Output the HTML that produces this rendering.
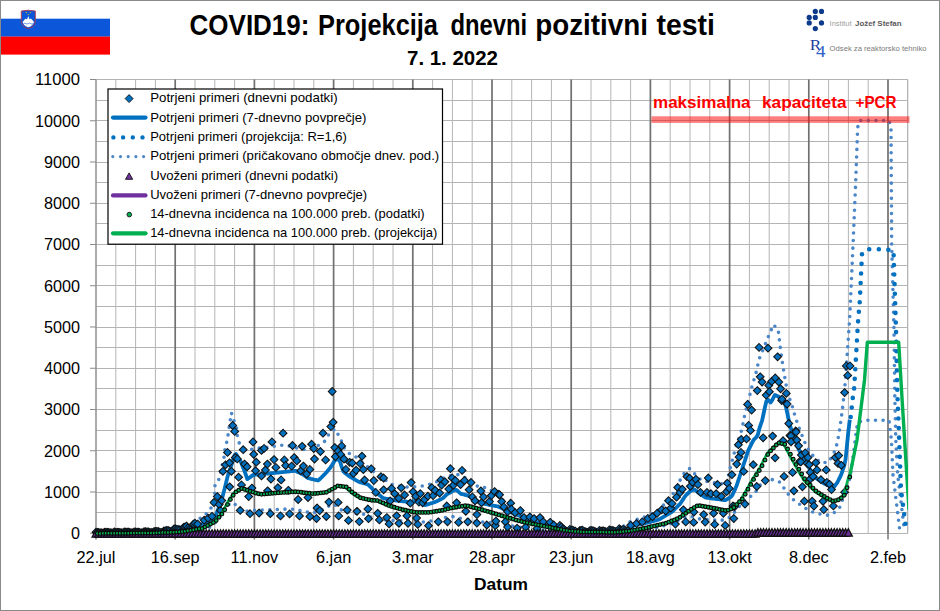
<!DOCTYPE html><html><head><meta charset="utf-8"><style>html,body{margin:0;padding:0;background:#fff}svg{display:block}</style></head><body>
<svg width="940" height="611" viewBox="0 0 940 611" font-family="Liberation Sans, sans-serif">
<rect x="0" y="0" width="940" height="611" fill="#fff"/>
<rect x="0.5" y="0.5" width="939" height="610" fill="none" stroke="#8a8a8a" stroke-width="1"/>
<rect x="1" y="18.7" width="109" height="18" fill="#0b56d9"/><rect x="1" y="36.6" width="109" height="18" fill="#ff0000"/>
<path d="M21.3 11 Q28.3 9.5 35.3 11 L35.3 21 Q35 27 28.3 28.6 Q21.6 27 21.3 21 Z" fill="#0b56d9" stroke="#b3374a" stroke-width="0.9"/>
<path d="M22.6 22 L25.6 18.5 L27 19.5 L28.3 16 L29.6 19.5 L31 18.5 L34 22 Q33 26 28.3 27.3 Q23.6 26 22.6 22 Z" fill="#fff"/>
<path d="M23.5 23.6 q1.2 -0.8 2.4 0 t2.4 0 t2.4 0 t2.4 0" stroke="#0b56d9" stroke-width="0.6" fill="none"/>
<circle cx="26.3" cy="12.6" r="0.6" fill="#e8d000"/><circle cx="30.3" cy="12.6" r="0.6" fill="#e8d000"/><circle cx="28.3" cy="14.6" r="0.6" fill="#e8d000"/>
<text x="189.6" y="34.5" font-size="29" font-weight="bold" textLength="119.8" lengthAdjust="spacingAndGlyphs" fill="#000">COVID19:</text>
<text x="318" y="34.5" font-size="29" font-weight="bold" textLength="120" lengthAdjust="spacingAndGlyphs" fill="#000">Projekcija</text>
<text x="450.4" y="34.5" font-size="29" font-weight="bold" textLength="76.8" lengthAdjust="spacingAndGlyphs" fill="#000">dnevni</text>
<text x="535.3" y="34.5" font-size="29" font-weight="bold" textLength="112.6" lengthAdjust="spacingAndGlyphs" fill="#000">pozitivni</text>
<text x="656.5" y="34.5" font-size="29" font-weight="bold" textLength="58.4" lengthAdjust="spacingAndGlyphs" fill="#000">testi</text>
<text x="407" y="64.9" font-size="20" font-weight="bold" textLength="91" lengthAdjust="spacingAndGlyphs" fill="#000">7. 1. 2022</text>
<circle cx="815.3" cy="11.4" r="2.6" fill="#0d3b8c"/>
<circle cx="821.5" cy="11.4" r="2.6" fill="#0d3b8c"/>
<circle cx="809.2" cy="17.4" r="2.6" fill="#0d3b8c"/>
<circle cx="815.3" cy="17.4" r="2.6" fill="#0d3b8c"/>
<circle cx="809.2" cy="22.9" r="2.6" fill="#0d3b8c"/>
<circle cx="821.5" cy="22.9" r="2.6" fill="#0d3b8c"/>
<circle cx="815.3" cy="28.6" r="2.6" fill="#0d3b8c"/>
<text x="829.6" y="26" font-size="7.4" fill="#a0a0a0" textLength="22" lengthAdjust="spacingAndGlyphs">Institut</text>
<text x="855" y="26" font-size="7.4" font-weight="bold" fill="#5a5a5a" textLength="46.5" lengthAdjust="spacingAndGlyphs">Jožef Stefan</text>
<text x="809.8" y="50.3" font-size="15" font-family="Liberation Serif, serif" fill="#1c3f9e" textLength="11.5" lengthAdjust="spacingAndGlyphs">R</text>
<text x="816" y="56.6" font-size="16.5" font-family="Liberation Serif, serif" fill="#2d62c8" textLength="9.5" lengthAdjust="spacingAndGlyphs">4</text>
<text x="829.6" y="51" font-size="7.6" fill="#7a7a7a" textLength="97" lengthAdjust="spacingAndGlyphs">Odsek za reaktorsko tehniko</text>
<path d="M96 533.5 H908 M96 512.5 H908 M96 492.5 H908 M96 471.5 H908 M96 450.5 H908 M96 430.5 H908 M96 409.5 H908 M96 388.5 H908 M96 368.5 H908 M96 347.5 H908 M96 327.5 H908 M96 306.5 H908 M96 285.5 H908 M96 265.5 H908 M96 244.5 H908 M96 223.5 H908 M96 203.5 H908 M96 182.5 H908 M96 162.5 H908 M96 141.5 H908 M96 120.5 H908 M96 100.5 H908 M96 79.5 H908" stroke="#b4b4b4" stroke-width="1" fill="none"/>
<path d="M115.8 79.5 V533 M135.6 79.5 V533 M155.4 79.5 V533 M195 79.5 V533 M214.8 79.5 V533 M234.6 79.5 V533 M274.2 79.5 V533 M294 79.5 V533 M313.8 79.5 V533 M353.4 79.5 V533 M373.2 79.5 V533 M393 79.5 V533 M432.6 79.5 V533 M452.4 79.5 V533 M472.2 79.5 V533 M511.8 79.5 V533 M531.6 79.5 V533 M551.4 79.5 V533 M591 79.5 V533 M610.8 79.5 V533 M630.6 79.5 V533 M670.2 79.5 V533 M690 79.5 V533 M709.8 79.5 V533 M749.4 79.5 V533 M769.2 79.5 V533 M789 79.5 V533 M828.6 79.5 V533 M848.4 79.5 V533 M868.2 79.5 V533 M907.8 79.5 V533 M907.5 79.5 V533" stroke="#b4b4b4" stroke-width="1" fill="none"/>
<path d="M175.2 79.5 V533 M254.4 79.5 V533 M333.6 79.5 V533 M412.8 79.5 V533 M492 79.5 V533 M571.2 79.5 V533 M650.4 79.5 V533 M729.6 79.5 V533 M808.8 79.5 V533 M888 79.5 V533" stroke="#707070" stroke-width="1.7" fill="none"/>
<path d="M96 79.5 V533" stroke="#969696" stroke-width="1.6" fill="none"/>
<path d="M90 533.3 H96 M90 492 H96 M90 450.8 H96 M90 409.5 H96 M90 368.3 H96 M90 327 H96 M90 285.8 H96 M90 244.5 H96 M90 203.3 H96 M90 162 H96 M90 120.8 H96 M90 79.5 H96" stroke="#8a8a8a" stroke-width="1.1"/>
<path d="M96 533 V539.5 M175.2 533 V539.5 M254.4 533 V539.5 M333.6 533 V539.5 M412.8 533 V539.5 M492 533 V539.5 M571.2 533 V539.5 M650.4 533 V539.5 M729.6 533 V539.5 M808.8 533 V539.5 M888 533 V539.5" stroke="#7a7a7a" stroke-width="1.5"/>
<text x="80" y="539.2" font-size="17" text-anchor="end" fill="#000" textLength="9" lengthAdjust="spacingAndGlyphs">0</text>
<text x="80" y="497.9" font-size="17" text-anchor="end" fill="#000" textLength="36" lengthAdjust="spacingAndGlyphs">1000</text>
<text x="80" y="456.7" font-size="17" text-anchor="end" fill="#000" textLength="36" lengthAdjust="spacingAndGlyphs">2000</text>
<text x="80" y="415.4" font-size="17" text-anchor="end" fill="#000" textLength="36" lengthAdjust="spacingAndGlyphs">3000</text>
<text x="80" y="374.2" font-size="17" text-anchor="end" fill="#000" textLength="36" lengthAdjust="spacingAndGlyphs">4000</text>
<text x="80" y="332.9" font-size="17" text-anchor="end" fill="#000" textLength="36" lengthAdjust="spacingAndGlyphs">5000</text>
<text x="80" y="291.7" font-size="17" text-anchor="end" fill="#000" textLength="36" lengthAdjust="spacingAndGlyphs">6000</text>
<text x="80" y="250.4" font-size="17" text-anchor="end" fill="#000" textLength="36" lengthAdjust="spacingAndGlyphs">7000</text>
<text x="80" y="209.2" font-size="17" text-anchor="end" fill="#000" textLength="36" lengthAdjust="spacingAndGlyphs">8000</text>
<text x="80" y="167.9" font-size="17" text-anchor="end" fill="#000" textLength="36" lengthAdjust="spacingAndGlyphs">9000</text>
<text x="80" y="126.7" font-size="17" text-anchor="end" fill="#000" textLength="45" lengthAdjust="spacingAndGlyphs">10000</text>
<text x="80" y="85.4" font-size="17" text-anchor="end" fill="#000" textLength="45" lengthAdjust="spacingAndGlyphs">11000</text>
<text x="96" y="562.9" font-size="16.3" text-anchor="middle" fill="#000">22.jul</text>
<text x="175.2" y="562.9" font-size="16.3" text-anchor="middle" fill="#000">16.sep</text>
<text x="254.4" y="562.9" font-size="16.3" text-anchor="middle" fill="#000">11.nov</text>
<text x="333.6" y="562.9" font-size="16.3" text-anchor="middle" fill="#000">6.jan</text>
<text x="412.8" y="562.9" font-size="16.3" text-anchor="middle" fill="#000">3.mar</text>
<text x="492" y="562.9" font-size="16.3" text-anchor="middle" fill="#000">28.apr</text>
<text x="571.2" y="562.9" font-size="16.3" text-anchor="middle" fill="#000">23.jun</text>
<text x="650.4" y="562.9" font-size="16.3" text-anchor="middle" fill="#000">18.avg</text>
<text x="729.6" y="562.9" font-size="16.3" text-anchor="middle" fill="#000">13.okt</text>
<text x="808.8" y="562.9" font-size="16.3" text-anchor="middle" fill="#000">8.dec</text>
<text x="888" y="562.9" font-size="16.3" text-anchor="middle" fill="#000">2.feb</text>
<text x="501" y="589.5" font-size="17" font-weight="bold" text-anchor="middle" fill="#000" textLength="54" lengthAdjust="spacingAndGlyphs">Datum</text>
<defs><clipPath id="pc"><rect x="90" y="79.5" width="818" height="462"/></clipPath></defs>
<g clip-path="url(#pc)">
<path d="M96 532.6 L97.4 532.6 L98.8 532.6 L100.2 532.6 L101.7 532.6 L103.1 532.6 L104.5 532.5 L105.9 532.5 L107.3 532.5 L108.7 532.5 L110.1 532.5 L111.6 532.5 L113 532.5 L114.4 532.5 L115.8 532.5 L117.2 532.5 L118.6 532.4 L120 532.4 L121.5 532.4 L122.9 532.4 L124.3 532.4 L125.7 532.4 L127.1 532.4 L128.5 532.4 L129.9 532.4 L131.4 532.4 L132.8 532.3 L134.2 532.3 L135.6 532.3 L137 532.3 L138.4 532.3 L139.8 532.3 L141.3 532.3 L142.7 532.2 L144.1 532.2 L145.5 532.2 L146.9 532.1 L148.3 532.1 L149.7 532.1 L151.2 532 L152.6 532 L154 532 L155.4 531.9 L156.8 531.9 L158.2 531.8 L159.6 531.8 L161.1 531.7 L162.5 531.6 L163.9 531.4 L165.3 531.3 L166.7 531.1 L168.1 531 L169.5 530.8 L171 530.7 L172.4 530.6 L173.8 530.4 L175.2 530.3 L176.6 530 L178 529.8 L179.4 529.6 L180.9 529.3 L182.3 529.1 L183.7 528.9 L185.1 528.6 L186.5 528.4 L187.9 528.1 L189.3 527.9 L190.8 527.6 L192.2 527.2 L193.6 526.7 L195 526.3 L196.4 525.9 L197.8 525.5 L199.2 525 L200.7 524.6 L202.1 524.2 L203.5 523.6 L204.9 522.9 L206.3 522.1 L207.7 521.4 L209.1 520.7 L210.6 520 L212 519.3 L213.4 518.3 L214.8 516.9 L216.2 514.3 L217.6 510.8 L219 507.3 L220.5 503.8 L221.9 498.9 L223.3 493.7 L224.7 488.4 L226.1 482.7 L227.5 476.9 L228.9 471.8 L230.4 468.2 L231.8 464 L233.2 459.5 L234.6 455 L236 453.9 L237.4 456.2 L238.8 458.4 L240.3 460.6 L241.7 463.9 L243.1 467.5 L244.5 471 L245.9 474.9 L247.3 479.1 L248.7 478.1 L250.2 477.1 L251.6 476.1 L253 475.1 L254.4 474.6 L255.8 474.5 L257.2 474.4 L258.6 474.3 L260.1 474.2 L261.5 474 L262.9 473.9 L264.3 473.8 L265.7 473.7 L267.1 473.6 L268.5 473.5 L270 473.3 L271.4 473.2 L272.8 473.1 L274.2 472.9 L275.6 472.8 L277 472.6 L278.4 472.5 L279.9 472.3 L281.3 472.2 L282.7 472.1 L284.1 471.9 L285.5 471.8 L286.9 471.6 L288.3 471.5 L289.8 471.4 L291.2 471.2 L292.6 471.1 L294 470.9 L295.4 470.8 L296.8 471.5 L298.2 472.2 L299.7 472.9 L301.1 473.6 L302.5 474.3 L303.9 475.1 L305.3 476.1 L306.7 477.2 L308.1 478.1 L309.6 478.4 L311 478.8 L312.4 479.1 L313.8 479.5 L315.2 479.8 L316.6 480.2 L318 480.5 L319.5 479.4 L320.9 478 L322.3 476.6 L323.7 475.2 L325.1 473.8 L326.5 472.3 L327.9 470.5 L329.4 468.8 L330.8 467 L332.2 464.9 L333.6 462.5 L335 460.1 L336.4 459.6 L337.8 459.6 L339.3 459.6 L340.7 463.7 L342.1 468 L343.5 471.6 L344.9 472.8 L346.3 473.9 L347.7 475 L349.2 476.2 L350.6 477.1 L352 477.9 L353.4 478.7 L354.8 479.5 L356.2 480.4 L357.6 481.2 L359.1 481.9 L360.5 482.3 L361.9 482.7 L363.3 483.1 L364.7 483.5 L366.1 483.9 L367.5 484.3 L369 485.4 L370.4 486.8 L371.8 488.2 L373.2 489.7 L374.6 491.1 L376 492.5 L377.4 493.6 L378.9 494.7 L380.3 495.8 L381.7 496.9 L383.1 498 L384.5 498.3 L385.9 498.6 L387.3 498.8 L388.8 499.1 L390.2 499.4 L391.6 499.7 L393 500 L394.4 500.2 L395.8 500.5 L397.2 500.7 L398.7 500.8 L400.1 501 L401.5 501.1 L402.9 501.3 L404.3 501.4 L405.7 501.5 L407.1 501.7 L408.6 501.8 L410 501.8 L411.4 501.7 L412.8 501.5 L414.2 501.4 L415.6 501.2 L417 501.7 L418.5 502.4 L419.9 503 L421.3 503.6 L422.7 504.2 L424.1 504.8 L425.5 505 L426.9 504.6 L428.4 504.1 L429.8 503.7 L431.2 503.2 L432.6 502.8 L434 502.3 L435.4 501.9 L436.8 501.2 L438.3 500.5 L439.7 499.8 L441.1 499.1 L442.5 498.4 L443.9 497.3 L445.3 495.8 L446.7 494.4 L448.2 493.6 L449.6 492.8 L451 492 L452.4 491.2 L453.8 490.4 L455.2 489.6 L456.6 490.1 L458.1 491.3 L459.5 492.6 L460.9 493.8 L462.3 494.2 L463.7 494.5 L465.1 494.9 L466.5 495.2 L468 495.6 L469.4 496.2 L470.8 497 L472.2 497.9 L473.6 498.8 L475 499.7 L476.4 500.6 L477.9 501.5 L479.3 502.4 L480.7 502.7 L482.1 503.1 L483.5 503.5 L484.9 503.8 L486.3 504.2 L487.8 504.5 L489.2 504.9 L490.6 505.1 L492 505.4 L493.4 505.6 L494.8 505.8 L496.2 506.1 L497.7 506.3 L499.1 507 L500.5 507.6 L501.9 508.3 L503.3 508.9 L504.7 509.6 L506.1 510.2 L507.6 510.9 L509 511.5 L510.4 512.2 L511.8 512.7 L513.2 513.3 L514.6 513.9 L516 514.4 L517.5 515 L518.9 515.5 L520.3 516.1 L521.7 516.7 L523.1 517.2 L524.5 517.8 L525.9 518.4 L527.4 518.9 L528.8 519.5 L530.2 520.1 L531.6 520.4 L533 520.8 L534.4 521.2 L535.8 521.6 L537.3 522 L538.7 522.4 L540.1 522.8 L541.5 523.2 L542.9 523.6 L544.3 523.9 L545.7 524.3 L547.2 524.7 L548.6 525.1 L550 525.5 L551.4 525.9 L552.8 526.3 L554.2 526.7 L555.6 527.1 L557.1 527.4 L558.5 527.8 L559.9 528.2 L561.3 528.6 L562.7 529 L564.1 529.4 L565.5 529.8 L567 530.2 L568.4 530.6 L569.8 530.9 L571.2 531 L572.6 531 L574 531.1 L575.4 531.1 L576.9 531.1 L578.3 531.1 L579.7 531.2 L581.1 531.2 L582.5 531.2 L583.9 531.2 L585.3 531.3 L586.8 531.3 L588.2 531.3 L589.6 531.3 L591 531.4 L592.4 531.4 L593.8 531.4 L595.2 531.4 L596.7 531.4 L598.1 531.5 L599.5 531.5 L600.9 531.5 L602.3 531.4 L603.7 531.4 L605.1 531.3 L606.6 531.3 L608 531.2 L609.4 531.2 L610.8 531.1 L612.2 531.1 L613.6 531 L615 531 L616.5 530.8 L617.9 530.7 L619.3 530.5 L620.7 530.3 L622.1 530.1 L623.5 530 L624.9 529.8 L626.4 529.2 L627.8 528.5 L629.2 527.8 L630.6 527.2 L632 526.5 L633.4 525.9 L634.8 525.2 L636.3 524.8 L637.7 524.6 L639.1 524.3 L640.5 524 L641.9 523.8 L643.3 523.5 L644.7 523.3 L646.2 523 L647.6 522.6 L649 522.2 L650.4 521.8 L651.8 521.5 L653.2 521.1 L654.6 520.7 L656.1 520.3 L657.5 519.9 L658.9 519.5 L660.3 518.8 L661.7 517.9 L663.1 517.1 L664.5 516.2 L666 515.4 L667.4 514.5 L668.8 513.7 L670.2 512.8 L671.6 512 L673 510.9 L674.4 509.5 L675.9 508 L677.3 506.6 L678.7 505.2 L680.1 503.8 L681.5 501.7 L682.9 499.6 L684.3 497.4 L685.8 495.4 L687.2 494.1 L688.6 492.7 L690 491.3 L691.4 490.4 L692.8 489.9 L694.2 489.4 L695.7 490.3 L697.1 491.6 L698.5 492.8 L699.9 493.7 L701.3 494.7 L702.7 495.6 L704.1 496.6 L705.6 497.5 L707 497.8 L708.4 497.9 L709.8 498.1 L711.2 498.3 L712.6 498.5 L714 498.6 L715.5 498.8 L716.9 499 L718.3 499.2 L719.7 499.4 L721.1 499.6 L722.5 499.8 L723.9 500 L725.4 500.2 L726.8 499.3 L728.2 498.5 L729.6 497.7 L731 496.8 L732.4 495.1 L733.8 491.9 L735.3 488.8 L736.7 485.5 L738.1 481.2 L739.5 477 L740.9 472.8 L742.3 468.5 L743.7 464.2 L745.2 459.8 L746.6 455.4 L748 451 L749.4 448.2 L750.8 445.4 L752.2 442.5 L753.6 439.9 L755.1 438.4 L756.5 437 L757.9 434.5 L759.3 428.8 L760.7 424.6 L762.1 420.7 L763.5 414 L765 407 L766.4 401.3 L767.8 399.6 L769.2 401 L770.6 402.4 L772 400.5 L773.4 397.7 L774.9 395 L776.3 395.6 L777.7 396.3 L779.1 397 L780.5 398 L781.9 399.8 L783.3 401.6 L784.8 403.3 L786.2 408 L787.6 414.6 L789 421.3 L790.4 426.9 L791.8 430.9 L793.2 434.7 L794.7 438.5 L796.1 442.6 L797.5 446.6 L798.9 449.8 L800.3 452.3 L801.7 454.9 L803.1 457.5 L804.6 460 L806 462.5 L807.4 464.9 L808.8 467.4 L810.2 469.7 L811.6 471.7 L813 473.7 L814.5 475.7 L815.9 477.7 L817.3 479 L818.7 479.9 L820.1 480.9 L821.5 481.8 L822.9 482.8 L824.4 483.7 L825.8 484.3 L827.2 484.9 L828.6 485.5 L830 486.1 L831.4 486.8 L832.8 487.4 L834.3 486.5 L835.7 484.6 L837.1 482.8 L838.5 480.2 L839.9 477.3 L841.3 474.4 L842.7 470.1 L844.2 465.9 L845.6 459.1 L847 445.2 L848.4 431 L849.8 419.7" fill="none" stroke="#0070c0" stroke-width="3.8" stroke-linejoin="round"/>
<path d="M96 532.2 L97.4 532.2 L98.8 532.2 L100.2 532.2 L101.7 532.2 L103.1 532.1 L104.5 532.1 L105.9 532.1 L107.3 532.1 L108.7 532.1 L110.1 532.1 L111.6 532.1 L113 532 L114.4 532 L115.8 532 L117.2 532 L118.6 532 L120 532 L121.5 532 L122.9 532 L124.3 531.9 L125.7 531.9 L127.1 531.9 L128.5 531.9 L129.9 531.9 L131.4 531.9 L132.8 531.9 L134.2 531.8 L135.6 531.8 L137 531.8 L138.4 531.7 L139.8 531.7 L141.3 531.6 L142.7 531.6 L144.1 531.5 L145.5 531.5 L146.9 531.4 L148.3 531.4 L149.7 531.3 L151.2 531.3 L152.6 531.2 L154 531.1 L155.4 531.1 L156.8 530.9 L158.2 530.7 L159.6 530.5 L161.1 530.3 L162.5 530.1 L163.9 529.9 L165.3 529.7 L166.7 529.5 L168.1 529.2 L169.5 529 L171 528.8 L172.4 528.5 L173.8 528.1 L175.2 527.8 L176.6 527.4 L178 527.1 L179.4 526.7 L180.9 526.4 L182.3 526 L183.7 525.7 L185.1 525.3 L186.5 524.8 L187.9 524.2 L189.3 523.6 L190.8 523 L192.2 522.3 L193.6 521.7 L195 521.1 L196.4 520.5 L197.8 519.8 L199.2 518.9 L200.7 517.8 L202.1 516.8 L203.5 515.7 L204.9 514.7 L206.3 513.6 L207.7 512.6 L209.1 511.1 L210.6 509 L212 505.2 L213.4 500 L214.8 494.8 L215 484 L219 479.2 L224 457.2 L224.9 449.7 L226.8 441.9 L228.1 434.7 L230.4 419.4 L231.4 413 L233.8 420.3 L236.6 428.1 L237.3 435.3 L239.3 443.2 L244 448.5 L250.4 449.5 L256.9 448.4 L271.3 446.9 L278.5 445.2 L286.4 445.2 L300.8 449.1 L308 450 L320.4 444.6 L325.6 440.6 L328.9 434.1 L334.8 428.8 L338.7 435.4 L341.9 442 L344.6 449.1 L348.5 452.4 L350.2 454.5 L356.1 457.1 L366.8 466.2 L378.5 475 L391 484.2 L405 487 L419.1 486.8 L426.3 484.9 L433.5 483.6 L446 476.5 L457.3 474.4 L466 478 L474.3 484.8 L480.6 487.6 L487.2 487.6 L495 493 L505 502 L515 510 L530 518 L545 524 L560 528 L561.3 528.1 L562.7 528.7 L564.1 529.2 L565.5 529.8 L567 529.9 L568.4 530 L569.8 530 L571.2 530 L572.6 530.1 L574 530.1 L575.4 530.1 L576.9 530.2 L578.3 530.2 L579.7 530.2 L581.1 530.3 L582.5 530.3 L583.9 530.3 L585.3 530.4 L586.8 530.4 L588.2 530.4 L589.6 530.5 L591 530.5 L592.4 530.6 L593.8 530.6 L595.2 530.6 L596.7 530.6 L598.1 530.5 L599.5 530.5 L600.9 530.4 L602.3 530.3 L603.7 530.2 L605.1 530.2 L606.6 530.1 L608 530 L609.4 530 L610.8 529.9 L612.2 529.6 L613.6 529.4 L615 529.1 L616.5 528.9 L617.9 528.6 L619.3 528.4 L620.7 528.1 L622.1 527.2 L623.5 526.2 L624.9 525.2 L626.4 524.3 L627.8 523.3 L629.2 522.3 L630.6 521.3 L632 520.8 L633.4 520.4 L634.8 520 L636.3 519.6 L637.7 519.2 L639.1 518.8 L640.5 518.5 L641.9 518.1 L643.3 517.5 L644.7 516.9 L646.2 516.3 L647.6 515.8 L649 515.2 L650.4 514.6 L651.8 514 L653.2 513.5 L654.6 512.9 L656.1 511.8 L657.5 510.6 L658.9 509.3 L660.3 508 L661.7 506.8 L663.1 505.5 L664.5 504.3 L666 503 L667.4 501.7 L668.8 500.1 L670.2 498 L671.6 495.9 L673 493.8 L674.4 491.7 L675.9 489.6 L677.3 486.5 L678.7 483.4 L680.1 480.2 L681.5 477.3 L682.9 475.2 L684.3 473.2 L685.8 471.1 L687.2 469.8 L688.6 469.1 L690 468.4 L691.4 469.6 L692.8 471.6 L694.2 473.3 L695.7 474.7 L697.1 476.1 L698.5 477.5 L699.9 478.9 L701.3 480.3 L702.7 480.7 L704.1 481 L705.6 481.2 L707 481.5 L708.4 481.7 L709.8 482 L711.2 482.3 L712.6 482.5 L714 482.8 L715.5 483.1 L716.9 483.4 L718.3 483.7 L719.7 484 L721.1 484.3 L722.5 483 L723.9 481.8 L725 484 L728 478.6 L729.3 471.4 L731.2 464.2 L733.2 457 L735.2 449.2 L740.2 434.9 L742.4 427.5 L743.6 420 L745.3 412.6 L749.3 397.4 L751 390 L753.1 382.5 L755.4 375.1 L757.3 368.2 L758.5 360.4 L761.6 353.3 L764.6 345.9 L767.1 339.4 L770.7 331.6 L773 324.7 L777.9 328.7 L779.1 336.1 L779.7 343.6 L780.8 351 L782 359.1 L782.9 366.5 L784.3 374 L785.4 381.4 L788.6 397 L791.6 403 L793.4 410.9 L795.7 417.8 L798 425.2 L800.9 432.6 L803.7 439.5 L806.5 446.8 L815 458.5 L821.9 463 L828.8 462 L835.7 449.3 L838.7 435.6 L841 420 L843 404.6 L845.3 381.7 L849.6 320 L853.1 243.5 L855.7 181.6 L857.7 127.4 L859.5 120.5 L889 120.5 L891 127 L891.7 245 L894 330 L894.8 395 L895.8 440 L897.7 475 L904.4 530" fill="none" stroke="#4a86c8" stroke-width="3.6" stroke-linecap="round" stroke-dasharray="0 7.6"/>
<path d="M96 533 L97.4 533 L98.8 533 L100.2 533 L101.7 533 L103.1 533 L104.5 533 L105.9 533 L107.3 533 L108.7 533 L110.1 533 L111.6 533 L113 533 L114.4 533 L115.8 533 L117.2 533 L118.6 533 L120 533 L121.5 532.9 L122.9 532.9 L124.3 532.9 L125.7 532.9 L127.1 532.9 L128.5 532.9 L129.9 532.9 L131.4 532.9 L132.8 532.9 L134.2 532.9 L135.6 532.9 L137 532.9 L138.4 532.9 L139.8 532.9 L141.3 532.9 L142.7 532.8 L144.1 532.8 L145.5 532.8 L146.9 532.8 L148.3 532.8 L149.7 532.8 L151.2 532.8 L152.6 532.7 L154 532.7 L155.4 532.7 L156.8 532.7 L158.2 532.6 L159.6 532.6 L161.1 532.5 L162.5 532.5 L163.9 532.4 L165.3 532.3 L166.7 532.3 L168.1 532.2 L169.5 532.2 L171 532.1 L172.4 532 L173.8 531.9 L175.2 531.8 L176.6 531.7 L178 531.7 L179.4 531.6 L180.9 531.5 L182.3 531.4 L183.7 531.3 L185.1 531.2 L186.5 531.1 L187.9 530.9 L189.3 530.7 L190.8 530.6 L192.2 530.4 L193.6 530.2 L195 530.1 L196.4 529.9 L197.8 529.8 L199.2 529.5 L200.7 529.2 L202.1 528.9 L203.5 528.7 L204.9 528.4 L206.3 528.1 L207.7 527.8 L209.1 527.5 L210.6 526.9 L212 525.9 L213.4 524.5 L214.8 523.2 L216.2 521.8 L217.6 519.9 L219 517.8 L220.5 515.8 L221.9 513.6 L223.3 511.3 L224.7 509.3 L226.1 507.9 L227.5 506.3 L228.9 504.5 L230.4 502.8 L231.8 502.3 L233.2 503.2 L234.6 504.1 L236 505 L237.4 506.2 L238.8 507.6 L240.3 509 L241.7 510.5 L243.1 512.2 L244.5 511.8 L245.9 511.4 L247.3 511 L248.7 510.6 L250.2 510.4 L251.6 510.4 L253 510.3 L254.4 510.3 L255.8 510.2 L257.2 510.2 L258.6 510.1 L260.1 510.1 L261.5 510.1 L262.9 510 L264.3 510 L265.7 509.9 L267.1 509.9 L268.5 509.8 L270 509.7 L271.4 509.7 L272.8 509.6 L274.2 509.6 L275.6 509.5 L277 509.5 L278.4 509.4 L279.9 509.4 L281.3 509.3 L282.7 509.3 L284.1 509.2 L285.5 509.1 L286.9 509.1 L288.3 509 L289.8 509 L291.2 508.9 L292.6 509.2 L294 509.5 L295.4 509.7 L296.8 510 L298.2 510.3 L299.7 510.6 L301.1 511 L302.5 511.4 L303.9 511.8 L305.3 511.9 L306.7 512 L308.1 512.2 L309.6 512.3 L311 512.4 L312.4 512.6 L313.8 512.7 L315.2 512.3 L316.6 511.7 L318 511.2 L319.5 510.6 L320.9 510.1 L322.3 509.5 L323.7 508.8 L325.1 508.1 L326.5 507.4 L327.9 506.6 L329.4 505.7 L330.8 504.7 L332.2 504.6 L333.6 504.6 L335 504.6 L336.4 506.2 L337.8 507.8 L339.3 509.3 L340.7 509.7 L342.1 510.1 L343.5 510.6 L344.9 511 L346.3 511.4 L347.7 511.7 L349.2 512 L350.6 512.3 L352 512.7 L353.4 513 L354.8 513.3 L356.2 513.4 L357.6 513.6 L359.1 513.7 L360.5 513.9 L361.9 514.1 L363.3 514.2 L364.7 514.6 L366.1 515.2 L367.5 515.7 L369 516.3 L370.4 516.8 L371.8 517.4 L373.2 517.8 L374.6 518.2 L376 518.7 L377.4 519.1 L378.9 519.5 L380.3 519.6 L381.7 519.8 L383.1 519.9 L384.5 520 L385.9 520.1 L387.3 520.2 L388.8 520.3 L390.2 520.4 L391.6 520.5 L393 520.6 L394.4 520.6 L395.8 520.7 L397.2 520.8 L398.7 520.8 L400.1 520.9 L401.5 520.9 L402.9 521 L404.3 521 L405.7 521 L407.1 521 L408.6 520.9 L410 520.8 L411.4 520.8 L412.8 521 L414.2 521.2 L415.6 521.5 L417 521.7 L418.5 522 L419.9 522.2 L421.3 522.3 L422.7 522.1 L424.1 521.9 L425.5 521.8 L426.9 521.6 L428.4 521.4 L429.8 521.2 L431.2 521 L432.6 520.8 L434 520.5 L435.4 520.2 L436.8 520 L438.3 519.7 L439.7 519.3 L441.1 518.7 L442.5 518.1 L443.9 517.8 L445.3 517.5 L446.7 517.2 L448.2 516.9 L449.6 516.6 L451 516.2 L452.4 516.5 L453.8 516.9 L455.2 517.4 L456.6 517.9 L458.1 518 L459.5 518.2 L460.9 518.3 L462.3 518.5 L463.7 518.6 L465.1 518.8 L466.5 519.2 L468 519.5 L469.4 519.9 L470.8 520.2 L472.2 520.5 L473.6 520.9 L475 521.2 L476.4 521.4 L477.9 521.5 L479.3 521.7 L480.7 521.8 L482.1 521.9 L483.5 522.1 L484.9 522.2 L486.3 522.3 L487.8 522.4 L489.2 522.5 L490.6 522.6 L492 522.7 L493.4 522.8 L494.8 523 L496.2 523.3 L497.7 523.5 L499.1 523.8 L500.5 524 L501.9 524.3 L503.3 524.6 L504.7 524.8 L506.1 525.1 L507.6 525.3 L509 525.5 L510.4 525.7 L511.8 525.9 L513.2 526.2 L514.6 526.4 L516 526.6 L517.5 526.8 L518.9 527 L520.3 527.3 L521.7 527.5 L523.1 527.7 L524.5 527.9 L525.9 528.1 L527.4 528.3 L528.8 528.4 L530.2 528.6 L531.6 528.7 L533 528.9 L534.4 529 L535.8 529.2 L537.3 529.3 L538.7 529.5 L540.1 529.6 L541.5 529.8 L542.9 530 L544.3 530.1 L545.7 530.3 L547.2 530.4 L548.6 530.6 L550 530.7 L551.4 530.9 L552.8 531 L554.2 531.2 L555.6 531.3 L557.1 531.5 L558.5 531.6 L559.9 531.8 L561.3 531.9 L562.7 532.1 L564.1 532.2 L565.5 532.4 L567 532.4 L568.4 532.4 L569.8 532.4 L571.2 532.4 L572.6 532.4 L574 532.5 L575.4 532.5 L576.9 532.5 L578.3 532.5 L579.7 532.5 L581.1 532.5 L582.5 532.5 L583.9 532.5 L585.3 532.5 L586.8 532.5 L588.2 532.5 L589.6 532.6 L591 532.6 L592.4 532.6 L593.8 532.6 L595.2 532.6 L596.7 532.6 L598.1 532.6 L599.5 532.5 L600.9 532.5 L602.3 532.5 L603.7 532.5 L605.1 532.5 L606.6 532.5 L608 532.4 L609.4 532.4 L610.8 532.4 L612.2 532.3 L613.6 532.3 L615 532.2 L616.5 532.1 L617.9 532.1 L619.3 532 L620.7 531.9 L622.1 531.7 L623.5 531.4 L624.9 531.2 L626.4 530.9 L627.8 530.7 L629.2 530.4 L630.6 530.1 L632 530 L633.4 529.9 L634.8 529.8 L636.3 529.7 L637.7 529.6 L639.1 529.5 L640.5 529.4 L641.9 529.3 L643.3 529.1 L644.7 529 L646.2 528.8 L647.6 528.7 L649 528.5 L650.4 528.4 L651.8 528.2 L653.2 528.1 L654.6 527.9 L656.1 527.6 L657.5 527.3 L658.9 527 L660.3 526.6 L661.7 526.3 L663.1 526 L664.5 525.6 L666 525.3 L667.4 525 L668.8 524.6 L670.2 524 L671.6 523.4 L673 522.9 L674.4 522.3 L675.9 521.8 L677.3 521 L678.7 520.1 L680.1 519.3 L681.5 518.5 L682.9 518 L684.3 517.5 L685.8 516.9 L687.2 516.6 L688.6 516.4 L690 516.2 L691.4 516.5 L692.8 517 L694.2 517.5 L695.7 517.9 L697.1 518.2 L698.5 518.6 L699.9 519 L701.3 519.3 L702.7 519.4 L704.1 519.5 L705.6 519.6 L707 519.6 L708.4 519.7 L709.8 519.8 L711.2 519.8 L712.6 519.9 L714 520 L715.5 520.1 L716.9 520.2 L718.3 520.2 L719.7 520.3 L721.1 520.4 L722.5 520.1 L723.9 519.7 L725.4 519.4 L726.8 519.1 L728.2 518.4 L729.6 517.2 L731 515.9 L732.4 514.7 L733.8 513 L735.3 511.3 L736.7 509.7 L738.1 508 L739.5 506.3 L740.9 504.6 L742.3 502.9 L743.7 501.2 L745.2 500.1 L746.6 499 L748 497.9 L749.4 496.9 L750.8 496.3 L752.2 495.8 L753.6 494.8 L755.1 492.5 L756.5 490.9 L757.9 489.4 L759.3 486.8 L760.7 484.1 L762.1 481.8 L763.5 481.2 L765 481.7 L766.4 482.3 L767.8 481.5 L769.2 480.4 L770.6 479.4 L772 479.6 L773.4 479.9 L774.9 480.1 L776.3 480.5 L777.7 481.2 L779.1 481.9 L780.5 482.6 L781.9 484.4 L783.3 487 L784.8 489.6 L786.2 491.8 L787.6 493.4 L789 494.9 L790.4 496.3 L791.8 497.9 L793.2 499.5 L794.7 500.7 L796.1 501.7 L797.5 502.7 L798.9 503.7 L800.3 504.7 L801.7 505.7 L803.1 506.6 L804.6 507.6 L806 508.5 L807.4 509.3 L808.8 510.1 L810.2 510.8 L811.6 511.6 L813 512.1 L814.5 512.5 L815.9 512.9 L817.3 513.2 L818.7 513.6 L820.1 514 L821.5 514.2 L822.9 514.4 L824.4 514.7 L825.8 514.9 L827.2 515.1 L828.6 515.4 L830 515 L831.4 514.3 L832.8 513.6 L834.3 512.6 L835.7 511.5 L837.1 510.3 L838.5 508.7 L839.9 507 L841.3 504.3 L842.7 498.9 L844.2 493.4 L845.6 489 L847 489 L849 482 L851.7 467.7 L855.5 437.5 L857.6 422.4 L864.5 420.2 L889 420.2 L891.4 440 L893 475 L899.5 528" fill="none" stroke="#4a86c8" stroke-width="3.6" stroke-linecap="round" stroke-dasharray="0 7.6"/>
<path d="M850.7 417 L852.8 397.7 L854.2 387.9 L858 322 L859.8 301 L862 254 L866.4 249.2 L885.6 249.2 L893.5 251 L896 330 L897.4 395 L898.8 430 L901 490 L906.3 530" fill="none" stroke="#0070c0" stroke-width="4.6" stroke-linecap="round" stroke-dasharray="0 9.6"/>
<g fill="#0070c0" stroke="#111" stroke-width="1.05"><path d="M96 528.3l3.9 3.9l-3.9 3.9l-3.9 -3.9z"/><path d="M97.4 528.5l3.9 3.9l-3.9 3.9l-3.9 -3.9z"/><path d="M98.8 528.6l3.9 3.9l-3.9 3.9l-3.9 -3.9z"/><path d="M100.2 528.9l3.9 3.9l-3.9 3.9l-3.9 -3.9z"/><path d="M101.7 529l3.9 3.9l-3.9 3.9l-3.9 -3.9z"/><path d="M103.1 529.1l3.9 3.9l-3.9 3.9l-3.9 -3.9z"/><path d="M104.5 528.4l3.9 3.9l-3.9 3.9l-3.9 -3.9z"/><path d="M105.9 528.3l3.9 3.9l-3.9 3.9l-3.9 -3.9z"/><path d="M107.3 528.4l3.9 3.9l-3.9 3.9l-3.9 -3.9z"/><path d="M108.7 528.6l3.9 3.9l-3.9 3.9l-3.9 -3.9z"/><path d="M110.1 528.8l3.9 3.9l-3.9 3.9l-3.9 -3.9z"/><path d="M111.6 529l3.9 3.9l-3.9 3.9l-3.9 -3.9z"/><path d="M113 529l3.9 3.9l-3.9 3.9l-3.9 -3.9z"/><path d="M114.4 528.1l3.9 3.9l-3.9 3.9l-3.9 -3.9z"/><path d="M115.8 528.4l3.9 3.9l-3.9 3.9l-3.9 -3.9z"/><path d="M117.2 528.4l3.9 3.9l-3.9 3.9l-3.9 -3.9z"/><path d="M118.6 528.4l3.9 3.9l-3.9 3.9l-3.9 -3.9z"/><path d="M120 528.6l3.9 3.9l-3.9 3.9l-3.9 -3.9z"/><path d="M121.5 528.9l3.9 3.9l-3.9 3.9l-3.9 -3.9z"/><path d="M122.9 529.1l3.9 3.9l-3.9 3.9l-3.9 -3.9z"/><path d="M124.3 528l3.9 3.9l-3.9 3.9l-3.9 -3.9z"/><path d="M125.7 528.2l3.9 3.9l-3.9 3.9l-3.9 -3.9z"/><path d="M127.1 528.2l3.9 3.9l-3.9 3.9l-3.9 -3.9z"/><path d="M128.5 528.2l3.9 3.9l-3.9 3.9l-3.9 -3.9z"/><path d="M129.9 528.6l3.9 3.9l-3.9 3.9l-3.9 -3.9z"/><path d="M131.4 528.9l3.9 3.9l-3.9 3.9l-3.9 -3.9z"/><path d="M132.8 529l3.9 3.9l-3.9 3.9l-3.9 -3.9z"/><path d="M134.2 528.1l3.9 3.9l-3.9 3.9l-3.9 -3.9z"/><path d="M135.6 528.1l3.9 3.9l-3.9 3.9l-3.9 -3.9z"/><path d="M137 528.2l3.9 3.9l-3.9 3.9l-3.9 -3.9z"/><path d="M138.4 528.3l3.9 3.9l-3.9 3.9l-3.9 -3.9z"/><path d="M139.8 528.6l3.9 3.9l-3.9 3.9l-3.9 -3.9z"/><path d="M141.3 528.9l3.9 3.9l-3.9 3.9l-3.9 -3.9z"/><path d="M142.7 529l3.9 3.9l-3.9 3.9l-3.9 -3.9z"/><path d="M144.1 527.8l3.9 3.9l-3.9 3.9l-3.9 -3.9z"/><path d="M145.5 527.8l3.9 3.9l-3.9 3.9l-3.9 -3.9z"/><path d="M146.9 527.9l3.9 3.9l-3.9 3.9l-3.9 -3.9z"/><path d="M148.3 527.9l3.9 3.9l-3.9 3.9l-3.9 -3.9z"/><path d="M149.7 528.5l3.9 3.9l-3.9 3.9l-3.9 -3.9z"/><path d="M151.2 528.6l3.9 3.9l-3.9 3.9l-3.9 -3.9z"/><path d="M152.6 528.9l3.9 3.9l-3.9 3.9l-3.9 -3.9z"/><path d="M154 527.7l3.9 3.9l-3.9 3.9l-3.9 -3.9z"/><path d="M155.4 527.5l3.9 3.9l-3.9 3.9l-3.9 -3.9z"/><path d="M156.8 527.6l3.9 3.9l-3.9 3.9l-3.9 -3.9z"/><path d="M158.2 527.6l3.9 3.9l-3.9 3.9l-3.9 -3.9z"/><path d="M159.6 528.3l3.9 3.9l-3.9 3.9l-3.9 -3.9z"/><path d="M161.1 528.5l3.9 3.9l-3.9 3.9l-3.9 -3.9z"/><path d="M162.5 528.7l3.9 3.9l-3.9 3.9l-3.9 -3.9z"/><path d="M163.9 527.1l3.9 3.9l-3.9 3.9l-3.9 -3.9z"/><path d="M165.3 526.9l3.9 3.9l-3.9 3.9l-3.9 -3.9z"/><path d="M166.7 526.5l3.9 3.9l-3.9 3.9l-3.9 -3.9z"/><path d="M168.1 526.6l3.9 3.9l-3.9 3.9l-3.9 -3.9z"/><path d="M169.5 527.2l3.9 3.9l-3.9 3.9l-3.9 -3.9z"/><path d="M171 528l3.9 3.9l-3.9 3.9l-3.9 -3.9z"/><path d="M172.4 528.2l3.9 3.9l-3.9 3.9l-3.9 -3.9z"/><path d="M173.8 525.2l3.9 3.9l-3.9 3.9l-3.9 -3.9z"/><path d="M175.2 524.8l3.9 3.9l-3.9 3.9l-3.9 -3.9z"/><path d="M176.6 525.5l3.9 3.9l-3.9 3.9l-3.9 -3.9z"/><path d="M178 525.5l3.9 3.9l-3.9 3.9l-3.9 -3.9z"/><path d="M179.4 526.2l3.9 3.9l-3.9 3.9l-3.9 -3.9z"/><path d="M180.9 527.6l3.9 3.9l-3.9 3.9l-3.9 -3.9z"/><path d="M182.3 527.4l3.9 3.9l-3.9 3.9l-3.9 -3.9z"/><path d="M183.7 523.4l3.9 3.9l-3.9 3.9l-3.9 -3.9z"/><path d="M185.1 523l3.9 3.9l-3.9 3.9l-3.9 -3.9z"/><path d="M186.5 522.2l3.9 3.9l-3.9 3.9l-3.9 -3.9z"/><path d="M187.9 524.1l3.9 3.9l-3.9 3.9l-3.9 -3.9z"/><path d="M189.3 525.2l3.9 3.9l-3.9 3.9l-3.9 -3.9z"/><path d="M190.8 525.9l3.9 3.9l-3.9 3.9l-3.9 -3.9z"/><path d="M192.2 527.1l3.9 3.9l-3.9 3.9l-3.9 -3.9z"/><path d="M193.6 520.2l3.9 3.9l-3.9 3.9l-3.9 -3.9z"/><path d="M195 519.3l3.9 3.9l-3.9 3.9l-3.9 -3.9z"/><path d="M197.6 520.2l3.9 3.9l-3.9 3.9l-3.9 -3.9z"/><path d="M204.2 516.3l3.9 3.9l-3.9 3.9l-3.9 -3.9z"/><path d="M208.1 514.3l3.9 3.9l-3.9 3.9l-3.9 -3.9z"/><path d="M212 512.4l3.9 3.9l-3.9 3.9l-3.9 -3.9z"/><path d="M214 498.6l3.9 3.9l-3.9 3.9l-3.9 -3.9z"/><path d="M217.3 492.7l3.9 3.9l-3.9 3.9l-3.9 -3.9z"/><path d="M219.2 500.6l3.9 3.9l-3.9 3.9l-3.9 -3.9z"/><path d="M220.5 506.5l3.9 3.9l-3.9 3.9l-3.9 -3.9z"/><path d="M221.8 496.7l3.9 3.9l-3.9 3.9l-3.9 -3.9z"/><path d="M222.9 467.4l3.9 3.9l-3.9 3.9l-3.9 -3.9z"/><path d="M225.5 460.9l3.9 3.9l-3.9 3.9l-3.9 -3.9z"/><path d="M227.5 448.5l3.9 3.9l-3.9 3.9l-3.9 -3.9z"/><path d="M229.5 458.9l3.9 3.9l-3.9 3.9l-3.9 -3.9z"/><path d="M229.7 482.9l3.9 3.9l-3.9 3.9l-3.9 -3.9z"/><path d="M231.4 467.4l3.9 3.9l-3.9 3.9l-3.9 -3.9z"/><path d="M232.7 421.6l3.9 3.9l-3.9 3.9l-3.9 -3.9z"/><path d="M234.7 427.5l3.9 3.9l-3.9 3.9l-3.9 -3.9z"/><path d="M235.3 453.7l3.9 3.9l-3.9 3.9l-3.9 -3.9z"/><path d="M237.3 455l3.9 3.9l-3.9 3.9l-3.9 -3.9z"/><path d="M238.6 473.3l3.9 3.9l-3.9 3.9l-3.9 -3.9z"/><path d="M240.2 506.5l3.9 3.9l-3.9 3.9l-3.9 -3.9z"/><path d="M241.5 481l3.9 3.9l-3.9 3.9l-3.9 -3.9z"/><path d="M243.2 445.8l3.9 3.9l-3.9 3.9l-3.9 -3.9z"/><path d="M244.5 460.2l3.9 3.9l-3.9 3.9l-3.9 -3.9z"/><path d="M247.1 462.9l3.9 3.9l-3.9 3.9l-3.9 -3.9z"/><path d="M248.7 492.7l3.9 3.9l-3.9 3.9l-3.9 -3.9z"/><path d="M250 509.8l3.9 3.9l-3.9 3.9l-3.9 -3.9z"/><path d="M251.9 484.2l3.9 3.9l-3.9 3.9l-3.9 -3.9z"/><path d="M253 438l3.9 3.9l-3.9 3.9l-3.9 -3.9z"/><path d="M253.7 450.4l3.9 3.9l-3.9 3.9l-3.9 -3.9z"/><path d="M255.6 466.8l3.9 3.9l-3.9 3.9l-3.9 -3.9z"/><path d="M256.3 458.3l3.9 3.9l-3.9 3.9l-3.9 -3.9z"/><path d="M259.1 509.1l3.9 3.9l-3.9 3.9l-3.9 -3.9z"/><path d="M261.5 446.5l3.9 3.9l-3.9 3.9l-3.9 -3.9z"/><path d="M261.5 472l3.9 3.9l-3.9 3.9l-3.9 -3.9z"/><path d="M264.1 444.5l3.9 3.9l-3.9 3.9l-3.9 -3.9z"/><path d="M265.4 466.1l3.9 3.9l-3.9 3.9l-3.9 -3.9z"/><path d="M267.4 460.2l3.9 3.9l-3.9 3.9l-3.9 -3.9z"/><path d="M267.6 486.9l3.9 3.9l-3.9 3.9l-3.9 -3.9z"/><path d="M270.3 509.8l3.9 3.9l-3.9 3.9l-3.9 -3.9z"/><path d="M270.9 475.1l3.9 3.9l-3.9 3.9l-3.9 -3.9z"/><path d="M272 438l3.9 3.9l-3.9 3.9l-3.9 -3.9z"/><path d="M274 455.7l3.9 3.9l-3.9 3.9l-3.9 -3.9z"/><path d="M275.9 463.5l3.9 3.9l-3.9 3.9l-3.9 -3.9z"/><path d="M277.9 483.8l3.9 3.9l-3.9 3.9l-3.9 -3.9z"/><path d="M280.5 512l3.9 3.9l-3.9 3.9l-3.9 -3.9z"/><path d="M281.1 476l3.9 3.9l-3.9 3.9l-3.9 -3.9z"/><path d="M283.1 429.3l3.9 3.9l-3.9 3.9l-3.9 -3.9z"/><path d="M284.4 456l3.9 3.9l-3.9 3.9l-3.9 -3.9z"/><path d="M285.7 461.6l3.9 3.9l-3.9 3.9l-3.9 -3.9z"/><path d="M288.3 486.4l3.9 3.9l-3.9 3.9l-3.9 -3.9z"/><path d="M289.6 510l3.9 3.9l-3.9 3.9l-3.9 -3.9z"/><path d="M291.6 462.2l3.9 3.9l-3.9 3.9l-3.9 -3.9z"/><path d="M292.5 441.6l3.9 3.9l-3.9 3.9l-3.9 -3.9z"/><path d="M294.2 453.7l3.9 3.9l-3.9 3.9l-3.9 -3.9z"/><path d="M296.8 457l3.9 3.9l-3.9 3.9l-3.9 -3.9z"/><path d="M298.1 495.6l3.9 3.9l-3.9 3.9l-3.9 -3.9z"/><path d="M299.5 512l3.9 3.9l-3.9 3.9l-3.9 -3.9z"/><path d="M300.8 466.8l3.9 3.9l-3.9 3.9l-3.9 -3.9z"/><path d="M302.1 442.4l3.9 3.9l-3.9 3.9l-3.9 -3.9z"/><path d="M303.4 462.2l3.9 3.9l-3.9 3.9l-3.9 -3.9z"/><path d="M306.6 470.1l3.9 3.9l-3.9 3.9l-3.9 -3.9z"/><path d="M308 493.6l3.9 3.9l-3.9 3.9l-3.9 -3.9z"/><path d="M309.9 465.5l3.9 3.9l-3.9 3.9l-3.9 -3.9z"/><path d="M309.9 512.6l3.9 3.9l-3.9 3.9l-3.9 -3.9z"/><path d="M311.6 440.3l3.9 3.9l-3.9 3.9l-3.9 -3.9z"/><path d="M313.8 444.6l3.9 3.9l-3.9 3.9l-3.9 -3.9z"/><path d="M314.5 455.1l3.9 3.9l-3.9 3.9l-3.9 -3.9z"/><path d="M316.5 514.6l3.9 3.9l-3.9 3.9l-3.9 -3.9z"/><path d="M317.1 504.1l3.9 3.9l-3.9 3.9l-3.9 -3.9z"/><path d="M319.7 506.7l3.9 3.9l-3.9 3.9l-3.9 -3.9z"/><path d="M320.4 447.6l3.9 3.9l-3.9 3.9l-3.9 -3.9z"/><path d="M323 429.3l3.9 3.9l-3.9 3.9l-3.9 -3.9z"/><path d="M325.6 456l3.9 3.9l-3.9 3.9l-3.9 -3.9z"/><path d="M326.3 512.6l3.9 3.9l-3.9 3.9l-3.9 -3.9z"/><path d="M328.9 498.2l3.9 3.9l-3.9 3.9l-3.9 -3.9z"/><path d="M330.9 422.7l3.9 3.9l-3.9 3.9l-3.9 -3.9z"/><path d="M332.2 387.6l3.9 3.9l-3.9 3.9l-3.9 -3.9z"/><path d="M333.1 418.4l3.9 3.9l-3.9 3.9l-3.9 -3.9z"/><path d="M334.8 443.7l3.9 3.9l-3.9 3.9l-3.9 -3.9z"/><path d="M335.4 452.8l3.9 3.9l-3.9 3.9l-3.9 -3.9z"/><path d="M338.1 447.2l3.9 3.9l-3.9 3.9l-3.9 -3.9z"/><path d="M338.1 498.5l3.9 3.9l-3.9 3.9l-3.9 -3.9z"/><path d="M338.7 512l3.9 3.9l-3.9 3.9l-3.9 -3.9z"/><path d="M340.7 450.5l3.9 3.9l-3.9 3.9l-3.9 -3.9z"/><path d="M341.7 442l3.9 3.9l-3.9 3.9l-3.9 -3.9z"/><path d="M344 455.1l3.9 3.9l-3.9 3.9l-3.9 -3.9z"/><path d="M345.9 465.5l3.9 3.9l-3.9 3.9l-3.9 -3.9z"/><path d="M347.2 506.1l3.9 3.9l-3.9 3.9l-3.9 -3.9z"/><path d="M348.5 516.5l3.9 3.9l-3.9 3.9l-3.9 -3.9z"/><path d="M349.6 458.4l3.9 3.9l-3.9 3.9l-3.9 -3.9z"/><path d="M352.2 459.1l3.9 3.9l-3.9 3.9l-3.9 -3.9z"/><path d="M353.5 469.5l3.9 3.9l-3.9 3.9l-3.9 -3.9z"/><path d="M356.1 466.3l3.9 3.9l-3.9 3.9l-3.9 -3.9z"/><path d="M357 507.4l3.9 3.9l-3.9 3.9l-3.9 -3.9z"/><path d="M359.3 517.7l3.9 3.9l-3.9 3.9l-3.9 -3.9z"/><path d="M360.1 459.7l3.9 3.9l-3.9 3.9l-3.9 -3.9z"/><path d="M362 452.3l3.9 3.9l-3.9 3.9l-3.9 -3.9z"/><path d="M363.3 465.6l3.9 3.9l-3.9 3.9l-3.9 -3.9z"/><path d="M364.6 476.1l3.9 3.9l-3.9 3.9l-3.9 -3.9z"/><path d="M367.9 505.1l3.9 3.9l-3.9 3.9l-3.9 -3.9z"/><path d="M368.5 514.8l3.9 3.9l-3.9 3.9l-3.9 -3.9z"/><path d="M371.2 464.9l3.9 3.9l-3.9 3.9l-3.9 -3.9z"/><path d="M373.8 476.7l3.9 3.9l-3.9 3.9l-3.9 -3.9z"/><path d="M375.8 488.5l3.9 3.9l-3.9 3.9l-3.9 -3.9z"/><path d="M377.7 509.4l3.9 3.9l-3.9 3.9l-3.9 -3.9z"/><path d="M379.4 516l3.9 3.9l-3.9 3.9l-3.9 -3.9z"/><path d="M381 472.8l3.9 3.9l-3.9 3.9l-3.9 -3.9z"/><path d="M383.6 474.1l3.9 3.9l-3.9 3.9l-3.9 -3.9z"/><path d="M383.6 485.9l3.9 3.9l-3.9 3.9l-3.9 -3.9z"/><path d="M386.8 513.7l3.9 3.9l-3.9 3.9l-3.9 -3.9z"/><path d="M389.1 520l3.9 3.9l-3.9 3.9l-3.9 -3.9z"/><path d="M390.2 497l3.9 3.9l-3.9 3.9l-3.9 -3.9z"/><path d="M391.5 484.6l3.9 3.9l-3.9 3.9l-3.9 -3.9z"/><path d="M394.7 489.8l3.9 3.9l-3.9 3.9l-3.9 -3.9z"/><path d="M396.6 511.9l3.9 3.9l-3.9 3.9l-3.9 -3.9z"/><path d="M398.7 494.4l3.9 3.9l-3.9 3.9l-3.9 -3.9z"/><path d="M398.9 519.4l3.9 3.9l-3.9 3.9l-3.9 -3.9z"/><path d="M401.3 483.9l3.9 3.9l-3.9 3.9l-3.9 -3.9z"/><path d="M404.6 491.1l3.9 3.9l-3.9 3.9l-3.9 -3.9z"/><path d="M406.9 511.9l3.9 3.9l-3.9 3.9l-3.9 -3.9z"/><path d="M408 519.4l3.9 3.9l-3.9 3.9l-3.9 -3.9z"/><path d="M410.3 499.3l3.9 3.9l-3.9 3.9l-3.9 -3.9z"/><path d="M411.1 478.7l3.9 3.9l-3.9 3.9l-3.9 -3.9z"/><path d="M413.1 487.9l3.9 3.9l-3.9 3.9l-3.9 -3.9z"/><path d="M415.7 492.4l3.9 3.9l-3.9 3.9l-3.9 -3.9z"/><path d="M416.6 514.2l3.9 3.9l-3.9 3.9l-3.9 -3.9z"/><path d="M417.8 520.5l3.9 3.9l-3.9 3.9l-3.9 -3.9z"/><path d="M418.9 498.2l3.9 3.9l-3.9 3.9l-3.9 -3.9z"/><path d="M420.3 489.8l3.9 3.9l-3.9 3.9l-3.9 -3.9z"/><path d="M422.6 498.9l3.9 3.9l-3.9 3.9l-3.9 -3.9z"/><path d="M424.6 495.6l3.9 3.9l-3.9 3.9l-3.9 -3.9z"/><path d="M427.9 492.3l3.9 3.9l-3.9 3.9l-3.9 -3.9z"/><path d="M428.5 521.8l3.9 3.9l-3.9 3.9l-3.9 -3.9z"/><path d="M431.8 483.8l3.9 3.9l-3.9 3.9l-3.9 -3.9z"/><path d="M433.1 491.7l3.9 3.9l-3.9 3.9l-3.9 -3.9z"/><path d="M435.1 486.4l3.9 3.9l-3.9 3.9l-3.9 -3.9z"/><path d="M438.3 517.9l3.9 3.9l-3.9 3.9l-3.9 -3.9z"/><path d="M439.6 489.1l3.9 3.9l-3.9 3.9l-3.9 -3.9z"/><path d="M440.9 476l3.9 3.9l-3.9 3.9l-3.9 -3.9z"/><path d="M441.6 481.2l3.9 3.9l-3.9 3.9l-3.9 -3.9z"/><path d="M444.9 477.9l3.9 3.9l-3.9 3.9l-3.9 -3.9z"/><path d="M446.8 502.1l3.9 3.9l-3.9 3.9l-3.9 -3.9z"/><path d="M447.5 517.9l3.9 3.9l-3.9 3.9l-3.9 -3.9z"/><path d="M448.8 485.1l3.9 3.9l-3.9 3.9l-3.9 -3.9z"/><path d="M450.4 464.8l3.9 3.9l-3.9 3.9l-3.9 -3.9z"/><path d="M452.1 474l3.9 3.9l-3.9 3.9l-3.9 -3.9z"/><path d="M453.4 481.2l3.9 3.9l-3.9 3.9l-3.9 -3.9z"/><path d="M455.3 476.6l3.9 3.9l-3.9 3.9l-3.9 -3.9z"/><path d="M456.6 498.9l3.9 3.9l-3.9 3.9l-3.9 -3.9z"/><path d="M458.6 518.5l3.9 3.9l-3.9 3.9l-3.9 -3.9z"/><path d="M460.6 480.6l3.9 3.9l-3.9 3.9l-3.9 -3.9z"/><path d="M462.1 466.5l3.9 3.9l-3.9 3.9l-3.9 -3.9z"/><path d="M464.5 476.6l3.9 3.9l-3.9 3.9l-3.9 -3.9z"/><path d="M465.8 507.4l3.9 3.9l-3.9 3.9l-3.9 -3.9z"/><path d="M467.8 517.9l3.9 3.9l-3.9 3.9l-3.9 -3.9z"/><path d="M469.1 485.8l3.9 3.9l-3.9 3.9l-3.9 -3.9z"/><path d="M471 478.6l3.9 3.9l-3.9 3.9l-3.9 -3.9z"/><path d="M472.4 493l3.9 3.9l-3.9 3.9l-3.9 -3.9z"/><path d="M475 496.9l3.9 3.9l-3.9 3.9l-3.9 -3.9z"/><path d="M476.9 510.7l3.9 3.9l-3.9 3.9l-3.9 -3.9z"/><path d="M476.9 519.2l3.9 3.9l-3.9 3.9l-3.9 -3.9z"/><path d="M480.9 487.1l3.9 3.9l-3.9 3.9l-3.9 -3.9z"/><path d="M481.5 498.9l3.9 3.9l-3.9 3.9l-3.9 -3.9z"/><path d="M483.5 493l3.9 3.9l-3.9 3.9l-3.9 -3.9z"/><path d="M486.8 521.1l3.9 3.9l-3.9 3.9l-3.9 -3.9z"/><path d="M489.4 497.6l3.9 3.9l-3.9 3.9l-3.9 -3.9z"/><path d="M491.3 491.7l3.9 3.9l-3.9 3.9l-3.9 -3.9z"/><path d="M494.6 487.7l3.9 3.9l-3.9 3.9l-3.9 -3.9z"/><path d="M495.3 521.8l3.9 3.9l-3.9 3.9l-3.9 -3.9z"/><path d="M495.9 517.2l3.9 3.9l-3.9 3.9l-3.9 -3.9z"/><path d="M498.5 490.4l3.9 3.9l-3.9 3.9l-3.9 -3.9z"/><path d="M499.6 490.8l3.9 3.9l-3.9 3.9l-3.9 -3.9z"/><path d="M501.7 497.7l3.9 3.9l-3.9 3.9l-3.9 -3.9z"/><path d="M503.8 503l3.9 3.9l-3.9 3.9l-3.9 -3.9z"/><path d="M505.4 517.9l3.9 3.9l-3.9 3.9l-3.9 -3.9z"/><path d="M507.6 507.8l3.9 3.9l-3.9 3.9l-3.9 -3.9z"/><path d="M507.6 523.2l3.9 3.9l-3.9 3.9l-3.9 -3.9z"/><path d="M510.7 499.3l3.9 3.9l-3.9 3.9l-3.9 -3.9z"/><path d="M511.3 505.1l3.9 3.9l-3.9 3.9l-3.9 -3.9z"/><path d="M515 508.9l3.9 3.9l-3.9 3.9l-3.9 -3.9z"/><path d="M517.1 524.3l3.9 3.9l-3.9 3.9l-3.9 -3.9z"/><path d="M520.3 506.7l3.9 3.9l-3.9 3.9l-3.9 -3.9z"/><path d="M524 513.7l3.9 3.9l-3.9 3.9l-3.9 -3.9z"/><path d="M525.6 523.2l3.9 3.9l-3.9 3.9l-3.9 -3.9z"/><path d="M529.9 513.1l3.9 3.9l-3.9 3.9l-3.9 -3.9z"/><path d="M534.1 514.7l3.9 3.9l-3.9 3.9l-3.9 -3.9z"/><path d="M536.8 524.8l3.9 3.9l-3.9 3.9l-3.9 -3.9z"/><path d="M540 513.7l3.9 3.9l-3.9 3.9l-3.9 -3.9z"/><path d="M543.2 517.9l3.9 3.9l-3.9 3.9l-3.9 -3.9z"/><path d="M550.1 518.4l3.9 3.9l-3.9 3.9l-3.9 -3.9z"/><path d="M553.8 521.1l3.9 3.9l-3.9 3.9l-3.9 -3.9z"/><path d="M557.1 526l3.9 3.9l-3.9 3.9l-3.9 -3.9z"/><path d="M558.5 527l3.9 3.9l-3.9 3.9l-3.9 -3.9z"/><path d="M559.9 521.5l3.9 3.9l-3.9 3.9l-3.9 -3.9z"/><path d="M561.3 523.1l3.9 3.9l-3.9 3.9l-3.9 -3.9z"/><path d="M562.7 525l3.9 3.9l-3.9 3.9l-3.9 -3.9z"/><path d="M564.1 525.5l3.9 3.9l-3.9 3.9l-3.9 -3.9z"/><path d="M565.5 526.7l3.9 3.9l-3.9 3.9l-3.9 -3.9z"/><path d="M567 527.8l3.9 3.9l-3.9 3.9l-3.9 -3.9z"/><path d="M568.4 528.4l3.9 3.9l-3.9 3.9l-3.9 -3.9z"/><path d="M569.8 525.5l3.9 3.9l-3.9 3.9l-3.9 -3.9z"/><path d="M571.2 526.3l3.9 3.9l-3.9 3.9l-3.9 -3.9z"/><path d="M572.6 526.2l3.9 3.9l-3.9 3.9l-3.9 -3.9z"/><path d="M574 527l3.9 3.9l-3.9 3.9l-3.9 -3.9z"/><path d="M575.4 527.3l3.9 3.9l-3.9 3.9l-3.9 -3.9z"/><path d="M576.9 528.4l3.9 3.9l-3.9 3.9l-3.9 -3.9z"/><path d="M578.3 528.4l3.9 3.9l-3.9 3.9l-3.9 -3.9z"/><path d="M579.7 526.7l3.9 3.9l-3.9 3.9l-3.9 -3.9z"/><path d="M581.1 526.4l3.9 3.9l-3.9 3.9l-3.9 -3.9z"/><path d="M582.5 526.3l3.9 3.9l-3.9 3.9l-3.9 -3.9z"/><path d="M583.9 527.4l3.9 3.9l-3.9 3.9l-3.9 -3.9z"/><path d="M585.3 527.9l3.9 3.9l-3.9 3.9l-3.9 -3.9z"/><path d="M586.8 528.3l3.9 3.9l-3.9 3.9l-3.9 -3.9z"/><path d="M588.2 528.6l3.9 3.9l-3.9 3.9l-3.9 -3.9z"/><path d="M589.6 526.9l3.9 3.9l-3.9 3.9l-3.9 -3.9z"/><path d="M591 526.4l3.9 3.9l-3.9 3.9l-3.9 -3.9z"/><path d="M592.4 526.9l3.9 3.9l-3.9 3.9l-3.9 -3.9z"/><path d="M593.8 527l3.9 3.9l-3.9 3.9l-3.9 -3.9z"/><path d="M595.2 527.8l3.9 3.9l-3.9 3.9l-3.9 -3.9z"/><path d="M596.7 528.5l3.9 3.9l-3.9 3.9l-3.9 -3.9z"/><path d="M598.1 528.7l3.9 3.9l-3.9 3.9l-3.9 -3.9z"/><path d="M599.5 526.5l3.9 3.9l-3.9 3.9l-3.9 -3.9z"/><path d="M600.9 527.2l3.9 3.9l-3.9 3.9l-3.9 -3.9z"/><path d="M602.3 527.1l3.9 3.9l-3.9 3.9l-3.9 -3.9z"/><path d="M603.7 527.1l3.9 3.9l-3.9 3.9l-3.9 -3.9z"/><path d="M605.1 527.6l3.9 3.9l-3.9 3.9l-3.9 -3.9z"/><path d="M606.6 528.3l3.9 3.9l-3.9 3.9l-3.9 -3.9z"/><path d="M608 528.6l3.9 3.9l-3.9 3.9l-3.9 -3.9z"/><path d="M609.4 525.9l3.9 3.9l-3.9 3.9l-3.9 -3.9z"/><path d="M610.8 526.5l3.9 3.9l-3.9 3.9l-3.9 -3.9z"/><path d="M612.2 526.6l3.9 3.9l-3.9 3.9l-3.9 -3.9z"/><path d="M613.6 526.9l3.9 3.9l-3.9 3.9l-3.9 -3.9z"/><path d="M615 527.5l3.9 3.9l-3.9 3.9l-3.9 -3.9z"/><path d="M616.5 528.2l3.9 3.9l-3.9 3.9l-3.9 -3.9z"/><path d="M617.9 528.3l3.9 3.9l-3.9 3.9l-3.9 -3.9z"/><path d="M619.3 524.8l3.9 3.9l-3.9 3.9l-3.9 -3.9z"/><path d="M620.7 525.8l3.9 3.9l-3.9 3.9l-3.9 -3.9z"/><path d="M622.1 526.2l3.9 3.9l-3.9 3.9l-3.9 -3.9z"/><path d="M623.5 525.5l3.9 3.9l-3.9 3.9l-3.9 -3.9z"/><path d="M624.9 526.4l3.9 3.9l-3.9 3.9l-3.9 -3.9z"/><path d="M626.4 527.1l3.9 3.9l-3.9 3.9l-3.9 -3.9z"/><path d="M627.8 527.1l3.9 3.9l-3.9 3.9l-3.9 -3.9z"/><path d="M630.7 521.4l3.9 3.9l-3.9 3.9l-3.9 -3.9z"/><path d="M636.5 519.7l3.9 3.9l-3.9 3.9l-3.9 -3.9z"/><path d="M642.2 518l3.9 3.9l-3.9 3.9l-3.9 -3.9z"/><path d="M647.9 514.5l3.9 3.9l-3.9 3.9l-3.9 -3.9z"/><path d="M652.5 512.8l3.9 3.9l-3.9 3.9l-3.9 -3.9z"/><path d="M657.1 509.4l3.9 3.9l-3.9 3.9l-3.9 -3.9z"/><path d="M661.7 505.9l3.9 3.9l-3.9 3.9l-3.9 -3.9z"/><path d="M665.7 507.1l3.9 3.9l-3.9 3.9l-3.9 -3.9z"/><path d="M668.5 496.8l3.9 3.9l-3.9 3.9l-3.9 -3.9z"/><path d="M670.8 504.2l3.9 3.9l-3.9 3.9l-3.9 -3.9z"/><path d="M672 499.6l3.9 3.9l-3.9 3.9l-3.9 -3.9z"/><path d="M675.4 520.2l3.9 3.9l-3.9 3.9l-3.9 -3.9z"/><path d="M676.5 493.3l3.9 3.9l-3.9 3.9l-3.9 -3.9z"/><path d="M677.7 483.6l3.9 3.9l-3.9 3.9l-3.9 -3.9z"/><path d="M680 488.7l3.9 3.9l-3.9 3.9l-3.9 -3.9z"/><path d="M682.3 485.3l3.9 3.9l-3.9 3.9l-3.9 -3.9z"/><path d="M683.4 505.9l3.9 3.9l-3.9 3.9l-3.9 -3.9z"/><path d="M685.7 518l3.9 3.9l-3.9 3.9l-3.9 -3.9z"/><path d="M686.9 472.7l3.9 3.9l-3.9 3.9l-3.9 -3.9z"/><path d="M689.7 474.4l3.9 3.9l-3.9 3.9l-3.9 -3.9z"/><path d="M690.3 482.4l3.9 3.9l-3.9 3.9l-3.9 -3.9z"/><path d="M692.6 478.4l3.9 3.9l-3.9 3.9l-3.9 -3.9z"/><path d="M693.7 518.5l3.9 3.9l-3.9 3.9l-3.9 -3.9z"/><path d="M693.9 508.1l3.9 3.9l-3.9 3.9l-3.9 -3.9z"/><path d="M695.9 475.4l3.9 3.9l-3.9 3.9l-3.9 -3.9z"/><path d="M697.9 480.6l3.9 3.9l-3.9 3.9l-3.9 -3.9z"/><path d="M700.5 488.5l3.9 3.9l-3.9 3.9l-3.9 -3.9z"/><path d="M703.7 510.7l3.9 3.9l-3.9 3.9l-3.9 -3.9z"/><path d="M705.2 518.2l3.9 3.9l-3.9 3.9l-3.9 -3.9z"/><path d="M707 488.5l3.9 3.9l-3.9 3.9l-3.9 -3.9z"/><path d="M708.3 474.1l3.9 3.9l-3.9 3.9l-3.9 -3.9z"/><path d="M710.9 489.8l3.9 3.9l-3.9 3.9l-3.9 -3.9z"/><path d="M713.6 509.4l3.9 3.9l-3.9 3.9l-3.9 -3.9z"/><path d="M714.7 520.5l3.9 3.9l-3.9 3.9l-3.9 -3.9z"/><path d="M716.2 489.8l3.9 3.9l-3.9 3.9l-3.9 -3.9z"/><path d="M717.5 480.6l3.9 3.9l-3.9 3.9l-3.9 -3.9z"/><path d="M721.4 492.4l3.9 3.9l-3.9 3.9l-3.9 -3.9z"/><path d="M723.4 509.4l3.9 3.9l-3.9 3.9l-3.9 -3.9z"/><path d="M725.2 521.5l3.9 3.9l-3.9 3.9l-3.9 -3.9z"/><path d="M726.6 487.8l3.9 3.9l-3.9 3.9l-3.9 -3.9z"/><path d="M727.3 479.3l3.9 3.9l-3.9 3.9l-3.9 -3.9z"/><path d="M729.3 484.5l3.9 3.9l-3.9 3.9l-3.9 -3.9z"/><path d="M731.9 470.8l3.9 3.9l-3.9 3.9l-3.9 -3.9z"/><path d="M733 502.1l3.9 3.9l-3.9 3.9l-3.9 -3.9z"/><path d="M733.8 514.6l3.9 3.9l-3.9 3.9l-3.9 -3.9z"/><path d="M734.5 502.9l3.9 3.9l-3.9 3.9l-3.9 -3.9z"/><path d="M736.7 460.2l3.9 3.9l-3.9 3.9l-3.9 -3.9z"/><path d="M738.4 440.8l3.9 3.9l-3.9 3.9l-3.9 -3.9z"/><path d="M739.1 453.1l3.9 3.9l-3.9 3.9l-3.9 -3.9z"/><path d="M741 448.5l3.9 3.9l-3.9 3.9l-3.9 -3.9z"/><path d="M741.3 435.6l3.9 3.9l-3.9 3.9l-3.9 -3.9z"/><path d="M743.7 467.5l3.9 3.9l-3.9 3.9l-3.9 -3.9z"/><path d="M745 500.2l3.9 3.9l-3.9 3.9l-3.9 -3.9z"/><path d="M746.5 435l3.9 3.9l-3.9 3.9l-3.9 -3.9z"/><path d="M747.6 400.5l3.9 3.9l-3.9 3.9l-3.9 -3.9z"/><path d="M748.7 421.5l3.9 3.9l-3.9 3.9l-3.9 -3.9z"/><path d="M750.5 426.5l3.9 3.9l-3.9 3.9l-3.9 -3.9z"/><path d="M751.6 406.2l3.9 3.9l-3.9 3.9l-3.9 -3.9z"/><path d="M753.3 460.8l3.9 3.9l-3.9 3.9l-3.9 -3.9z"/><path d="M756.8 482.6l3.9 3.9l-3.9 3.9l-3.9 -3.9z"/><path d="M757.3 386.7l3.9 3.9l-3.9 3.9l-3.9 -3.9z"/><path d="M759.1 343.5l3.9 3.9l-3.9 3.9l-3.9 -3.9z"/><path d="M760.2 372.9l3.9 3.9l-3.9 3.9l-3.9 -3.9z"/><path d="M762.1 378.1l3.9 3.9l-3.9 3.9l-3.9 -3.9z"/><path d="M763.1 433.9l3.9 3.9l-3.9 3.9l-3.9 -3.9z"/><path d="M765.3 476.7l3.9 3.9l-3.9 3.9l-3.9 -3.9z"/><path d="M766.2 391.2l3.9 3.9l-3.9 3.9l-3.9 -3.9z"/><path d="M768 344.3l3.9 3.9l-3.9 3.9l-3.9 -3.9z"/><path d="M768.8 381.5l3.9 3.9l-3.9 3.9l-3.9 -3.9z"/><path d="M769.4 387.8l3.9 3.9l-3.9 3.9l-3.9 -3.9z"/><path d="M771.7 377.5l3.9 3.9l-3.9 3.9l-3.9 -3.9z"/><path d="M772.6 432.2l3.9 3.9l-3.9 3.9l-3.9 -3.9z"/><path d="M775.1 453.9l3.9 3.9l-3.9 3.9l-3.9 -3.9z"/><path d="M775.3 374.1l3.9 3.9l-3.9 3.9l-3.9 -3.9z"/><path d="M777.6 352.9l3.9 3.9l-3.9 3.9l-3.9 -3.9z"/><path d="M778.8 378.1l3.9 3.9l-3.9 3.9l-3.9 -3.9z"/><path d="M780.6 384.9l3.9 3.9l-3.9 3.9l-3.9 -3.9z"/><path d="M781.7 396.7l3.9 3.9l-3.9 3.9l-3.9 -3.9z"/><path d="M782 395.2l3.9 3.9l-3.9 3.9l-3.9 -3.9z"/><path d="M783.1 436.8l3.9 3.9l-3.9 3.9l-3.9 -3.9z"/><path d="M784.1 472.5l3.9 3.9l-3.9 3.9l-3.9 -3.9z"/><path d="M786.3 389.5l3.9 3.9l-3.9 3.9l-3.9 -3.9z"/><path d="M787.1 400.1l3.9 3.9l-3.9 3.9l-3.9 -3.9z"/><path d="M788.8 419.6l3.9 3.9l-3.9 3.9l-3.9 -3.9z"/><path d="M790 431.6l3.9 3.9l-3.9 3.9l-3.9 -3.9z"/><path d="M790.9 432l3.9 3.9l-3.9 3.9l-3.9 -3.9z"/><path d="M791.1 437.9l3.9 3.9l-3.9 3.9l-3.9 -3.9z"/><path d="M792.6 468.5l3.9 3.9l-3.9 3.9l-3.9 -3.9z"/><path d="M793.9 486.9l3.9 3.9l-3.9 3.9l-3.9 -3.9z"/><path d="M795.7 427l3.9 3.9l-3.9 3.9l-3.9 -3.9z"/><path d="M796.1 428.1l3.9 3.9l-3.9 3.9l-3.9 -3.9z"/><path d="M796.9 436.2l3.9 3.9l-3.9 3.9l-3.9 -3.9z"/><path d="M798.6 441.9l3.9 3.9l-3.9 3.9l-3.9 -3.9z"/><path d="M799.8 457.4l3.9 3.9l-3.9 3.9l-3.9 -3.9z"/><path d="M800.9 458l3.9 3.9l-3.9 3.9l-3.9 -3.9z"/><path d="M801.4 451.1l3.9 3.9l-3.9 3.9l-3.9 -3.9z"/><path d="M802.4 482.9l3.9 3.9l-3.9 3.9l-3.9 -3.9z"/><path d="M804.4 497.3l3.9 3.9l-3.9 3.9l-3.9 -3.9z"/><path d="M805.3 449l3.9 3.9l-3.9 3.9l-3.9 -3.9z"/><path d="M807 459.4l3.9 3.9l-3.9 3.9l-3.9 -3.9z"/><path d="M807.9 453.6l3.9 3.9l-3.9 3.9l-3.9 -3.9z"/><path d="M809.2 460.8l3.9 3.9l-3.9 3.9l-3.9 -3.9z"/><path d="M810.3 468.5l3.9 3.9l-3.9 3.9l-3.9 -3.9z"/><path d="M810.3 475.1l3.9 3.9l-3.9 3.9l-3.9 -3.9z"/><path d="M812.2 497.3l3.9 3.9l-3.9 3.9l-3.9 -3.9z"/><path d="M813.1 472.6l3.9 3.9l-3.9 3.9l-3.9 -3.9z"/><path d="M813.9 502.1l3.9 3.9l-3.9 3.9l-3.9 -3.9z"/><path d="M815.8 458.8l3.9 3.9l-3.9 3.9l-3.9 -3.9z"/><path d="M817.1 466l3.9 3.9l-3.9 3.9l-3.9 -3.9z"/><path d="M821 475.8l3.9 3.9l-3.9 3.9l-3.9 -3.9z"/><path d="M823 497.4l3.9 3.9l-3.9 3.9l-3.9 -3.9z"/><path d="M823.8 505.7l3.9 3.9l-3.9 3.9l-3.9 -3.9z"/><path d="M826.2 466l3.9 3.9l-3.9 3.9l-3.9 -3.9z"/><path d="M826.9 478.5l3.9 3.9l-3.9 3.9l-3.9 -3.9z"/><path d="M829.5 480.4l3.9 3.9l-3.9 3.9l-3.9 -3.9z"/><path d="M831.5 485.7l3.9 3.9l-3.9 3.9l-3.9 -3.9z"/><path d="M833.4 502l3.9 3.9l-3.9 3.9l-3.9 -3.9z"/><path d="M835.4 453.6l3.9 3.9l-3.9 3.9l-3.9 -3.9z"/><path d="M838 459.5l3.9 3.9l-3.9 3.9l-3.9 -3.9z"/><path d="M838.7 451.6l3.9 3.9l-3.9 3.9l-3.9 -3.9z"/><path d="M841.3 461.4l3.9 3.9l-3.9 3.9l-3.9 -3.9z"/><path d="M844.6 388.7l3.9 3.9l-3.9 3.9l-3.9 -3.9z"/><path d="M844.6 488.3l3.9 3.9l-3.9 3.9l-3.9 -3.9z"/><path d="M846.3 362l3.9 3.9l-3.9 3.9l-3.9 -3.9z"/><path d="M847.7 371.5l3.9 3.9l-3.9 3.9l-3.9 -3.9z"/><path d="M850 362l3.9 3.9l-3.9 3.9l-3.9 -3.9z"/></g>
<g fill="#6a2d9a" stroke="#111" stroke-width="1.3"><path d="M96 529.8l3.9 7.4h-7.8z"/><path d="M98.8 529.8l3.9 7.4h-7.8z"/><path d="M101.7 529.8l3.9 7.4h-7.8z"/><path d="M104.5 529.8l3.9 7.4h-7.8z"/><path d="M107.3 529.8l3.9 7.4h-7.8z"/><path d="M110.1 529.8l3.9 7.4h-7.8z"/><path d="M113 529.8l3.9 7.4h-7.8z"/><path d="M115.8 529.8l3.9 7.4h-7.8z"/><path d="M118.6 529.8l3.9 7.4h-7.8z"/><path d="M121.5 529.8l3.9 7.4h-7.8z"/><path d="M124.3 529.8l3.9 7.4h-7.8z"/><path d="M127.1 529.8l3.9 7.4h-7.8z"/><path d="M129.9 529.8l3.9 7.4h-7.8z"/><path d="M132.8 529.8l3.9 7.4h-7.8z"/><path d="M135.6 529.8l3.9 7.4h-7.8z"/><path d="M138.4 529.8l3.9 7.4h-7.8z"/><path d="M141.3 529.8l3.9 7.4h-7.8z"/><path d="M144.1 529.8l3.9 7.4h-7.8z"/><path d="M146.9 529.8l3.9 7.4h-7.8z"/><path d="M149.7 529.8l3.9 7.4h-7.8z"/><path d="M152.6 529.8l3.9 7.4h-7.8z"/><path d="M155.4 529.8l3.9 7.4h-7.8z"/><path d="M158.2 529.8l3.9 7.4h-7.8z"/><path d="M161.1 529.8l3.9 7.4h-7.8z"/><path d="M163.9 529.8l3.9 7.4h-7.8z"/><path d="M166.7 529.8l3.9 7.4h-7.8z"/><path d="M169.5 529.8l3.9 7.4h-7.8z"/><path d="M172.4 529.8l3.9 7.4h-7.8z"/><path d="M175.2 529.8l3.9 7.4h-7.8z"/><path d="M178 529.8l3.9 7.4h-7.8z"/><path d="M180.9 529.8l3.9 7.4h-7.8z"/><path d="M183.7 529.8l3.9 7.4h-7.8z"/><path d="M186.5 529.8l3.9 7.4h-7.8z"/><path d="M189.3 529.8l3.9 7.4h-7.8z"/><path d="M192.2 529.8l3.9 7.4h-7.8z"/><path d="M195 529.8l3.9 7.4h-7.8z"/><path d="M197.8 529.8l3.9 7.4h-7.8z"/><path d="M200.7 529.8l3.9 7.4h-7.8z"/><path d="M203.5 529.8l3.9 7.4h-7.8z"/><path d="M206.3 529.8l3.9 7.4h-7.8z"/><path d="M209.1 529.8l3.9 7.4h-7.8z"/><path d="M212 529.8l3.9 7.4h-7.8z"/><path d="M214.8 529.8l3.9 7.4h-7.8z"/><path d="M217.6 529.8l3.9 7.4h-7.8z"/><path d="M220.5 529.8l3.9 7.4h-7.8z"/><path d="M223.3 529.8l3.9 7.4h-7.8z"/><path d="M226.1 529.8l3.9 7.4h-7.8z"/><path d="M228.9 529.8l3.9 7.4h-7.8z"/><path d="M231.8 529.8l3.9 7.4h-7.8z"/><path d="M234.6 529.8l3.9 7.4h-7.8z"/><path d="M237.4 529.8l3.9 7.4h-7.8z"/><path d="M240.3 529.8l3.9 7.4h-7.8z"/><path d="M243.1 529.8l3.9 7.4h-7.8z"/><path d="M245.9 529.8l3.9 7.4h-7.8z"/><path d="M248.7 529.8l3.9 7.4h-7.8z"/><path d="M251.6 529.8l3.9 7.4h-7.8z"/><path d="M254.4 529.8l3.9 7.4h-7.8z"/><path d="M257.2 529.8l3.9 7.4h-7.8z"/><path d="M260.1 529.8l3.9 7.4h-7.8z"/><path d="M262.9 529.8l3.9 7.4h-7.8z"/><path d="M265.7 529.8l3.9 7.4h-7.8z"/><path d="M268.5 529.8l3.9 7.4h-7.8z"/><path d="M271.4 529.8l3.9 7.4h-7.8z"/><path d="M274.2 529.8l3.9 7.4h-7.8z"/><path d="M277 529.8l3.9 7.4h-7.8z"/><path d="M279.9 529.8l3.9 7.4h-7.8z"/><path d="M282.7 529.8l3.9 7.4h-7.8z"/><path d="M285.5 529.8l3.9 7.4h-7.8z"/><path d="M288.3 529.8l3.9 7.4h-7.8z"/><path d="M291.2 529.8l3.9 7.4h-7.8z"/><path d="M294 529.8l3.9 7.4h-7.8z"/><path d="M296.8 529.8l3.9 7.4h-7.8z"/><path d="M299.7 529.8l3.9 7.4h-7.8z"/><path d="M302.5 529.8l3.9 7.4h-7.8z"/><path d="M305.3 529.8l3.9 7.4h-7.8z"/><path d="M308.1 529.8l3.9 7.4h-7.8z"/><path d="M311 529.8l3.9 7.4h-7.8z"/><path d="M313.8 529.8l3.9 7.4h-7.8z"/><path d="M316.6 529.8l3.9 7.4h-7.8z"/><path d="M319.5 529.8l3.9 7.4h-7.8z"/><path d="M322.3 529.8l3.9 7.4h-7.8z"/><path d="M325.1 529.8l3.9 7.4h-7.8z"/><path d="M327.9 529.8l3.9 7.4h-7.8z"/><path d="M330.8 529.8l3.9 7.4h-7.8z"/><path d="M333.6 529.8l3.9 7.4h-7.8z"/><path d="M336.4 529.8l3.9 7.4h-7.8z"/><path d="M339.3 529.8l3.9 7.4h-7.8z"/><path d="M342.1 529.8l3.9 7.4h-7.8z"/><path d="M344.9 529.8l3.9 7.4h-7.8z"/><path d="M347.7 529.8l3.9 7.4h-7.8z"/><path d="M350.6 529.8l3.9 7.4h-7.8z"/><path d="M353.4 529.8l3.9 7.4h-7.8z"/><path d="M356.2 529.8l3.9 7.4h-7.8z"/><path d="M359.1 529.8l3.9 7.4h-7.8z"/><path d="M361.9 529.8l3.9 7.4h-7.8z"/><path d="M364.7 529.8l3.9 7.4h-7.8z"/><path d="M367.5 529.8l3.9 7.4h-7.8z"/><path d="M370.4 529.8l3.9 7.4h-7.8z"/><path d="M373.2 529.8l3.9 7.4h-7.8z"/><path d="M376 529.8l3.9 7.4h-7.8z"/><path d="M378.9 529.8l3.9 7.4h-7.8z"/><path d="M381.7 529.8l3.9 7.4h-7.8z"/><path d="M384.5 529.8l3.9 7.4h-7.8z"/><path d="M387.3 529.8l3.9 7.4h-7.8z"/><path d="M390.2 529.8l3.9 7.4h-7.8z"/><path d="M393 529.8l3.9 7.4h-7.8z"/><path d="M395.8 529.8l3.9 7.4h-7.8z"/><path d="M398.7 529.8l3.9 7.4h-7.8z"/><path d="M401.5 529.8l3.9 7.4h-7.8z"/><path d="M404.3 529.8l3.9 7.4h-7.8z"/><path d="M407.1 529.8l3.9 7.4h-7.8z"/><path d="M410 529.8l3.9 7.4h-7.8z"/><path d="M412.8 529.8l3.9 7.4h-7.8z"/><path d="M415.6 529.8l3.9 7.4h-7.8z"/><path d="M418.5 529.8l3.9 7.4h-7.8z"/><path d="M421.3 529.8l3.9 7.4h-7.8z"/><path d="M424.1 529.8l3.9 7.4h-7.8z"/><path d="M426.9 529.8l3.9 7.4h-7.8z"/><path d="M429.8 529.8l3.9 7.4h-7.8z"/><path d="M432.6 529.8l3.9 7.4h-7.8z"/><path d="M435.4 529.8l3.9 7.4h-7.8z"/><path d="M438.3 529.8l3.9 7.4h-7.8z"/><path d="M441.1 529.8l3.9 7.4h-7.8z"/><path d="M443.9 529.8l3.9 7.4h-7.8z"/><path d="M446.7 529.8l3.9 7.4h-7.8z"/><path d="M449.6 529.8l3.9 7.4h-7.8z"/><path d="M452.4 529.8l3.9 7.4h-7.8z"/><path d="M455.2 529.8l3.9 7.4h-7.8z"/><path d="M458.1 529.8l3.9 7.4h-7.8z"/><path d="M460.9 529.8l3.9 7.4h-7.8z"/><path d="M463.7 529.8l3.9 7.4h-7.8z"/><path d="M466.5 529.8l3.9 7.4h-7.8z"/><path d="M469.4 529.8l3.9 7.4h-7.8z"/><path d="M472.2 529.8l3.9 7.4h-7.8z"/><path d="M475 529.8l3.9 7.4h-7.8z"/><path d="M477.9 529.8l3.9 7.4h-7.8z"/><path d="M480.7 529.8l3.9 7.4h-7.8z"/><path d="M483.5 529.8l3.9 7.4h-7.8z"/><path d="M486.3 529.8l3.9 7.4h-7.8z"/><path d="M489.2 529.8l3.9 7.4h-7.8z"/><path d="M492 529.8l3.9 7.4h-7.8z"/><path d="M494.8 529.8l3.9 7.4h-7.8z"/><path d="M497.7 529.8l3.9 7.4h-7.8z"/><path d="M500.5 529.8l3.9 7.4h-7.8z"/><path d="M503.3 529.8l3.9 7.4h-7.8z"/><path d="M506.1 529.8l3.9 7.4h-7.8z"/><path d="M509 529.8l3.9 7.4h-7.8z"/><path d="M511.8 529.8l3.9 7.4h-7.8z"/><path d="M514.6 529.8l3.9 7.4h-7.8z"/><path d="M517.5 529.8l3.9 7.4h-7.8z"/><path d="M520.3 529.8l3.9 7.4h-7.8z"/><path d="M523.1 529.8l3.9 7.4h-7.8z"/><path d="M525.9 529.8l3.9 7.4h-7.8z"/><path d="M528.8 529.8l3.9 7.4h-7.8z"/><path d="M531.6 529.8l3.9 7.4h-7.8z"/><path d="M534.4 529.8l3.9 7.4h-7.8z"/><path d="M537.3 529.8l3.9 7.4h-7.8z"/><path d="M540.1 529.8l3.9 7.4h-7.8z"/><path d="M542.9 529.8l3.9 7.4h-7.8z"/><path d="M545.7 529.8l3.9 7.4h-7.8z"/><path d="M548.6 529.8l3.9 7.4h-7.8z"/><path d="M551.4 529.8l3.9 7.4h-7.8z"/><path d="M554.2 529.8l3.9 7.4h-7.8z"/><path d="M557.1 529.8l3.9 7.4h-7.8z"/><path d="M559.9 529.8l3.9 7.4h-7.8z"/><path d="M562.7 529.8l3.9 7.4h-7.8z"/><path d="M565.5 529.8l3.9 7.4h-7.8z"/><path d="M568.4 529.8l3.9 7.4h-7.8z"/><path d="M571.2 529.8l3.9 7.4h-7.8z"/><path d="M574 529.8l3.9 7.4h-7.8z"/><path d="M576.9 529.8l3.9 7.4h-7.8z"/><path d="M579.7 529.8l3.9 7.4h-7.8z"/><path d="M582.5 529.8l3.9 7.4h-7.8z"/><path d="M585.3 529.8l3.9 7.4h-7.8z"/><path d="M588.2 529.8l3.9 7.4h-7.8z"/><path d="M591 529.8l3.9 7.4h-7.8z"/><path d="M593.8 529.8l3.9 7.4h-7.8z"/><path d="M596.7 529.8l3.9 7.4h-7.8z"/><path d="M599.5 529.8l3.9 7.4h-7.8z"/><path d="M602.3 529.8l3.9 7.4h-7.8z"/><path d="M605.1 529.8l3.9 7.4h-7.8z"/><path d="M608 529.8l3.9 7.4h-7.8z"/><path d="M610.8 529.8l3.9 7.4h-7.8z"/><path d="M613.6 529.8l3.9 7.4h-7.8z"/><path d="M616.5 529.8l3.9 7.4h-7.8z"/><path d="M619.3 529.8l3.9 7.4h-7.8z"/><path d="M622.1 529.8l3.9 7.4h-7.8z"/><path d="M624.9 529.8l3.9 7.4h-7.8z"/><path d="M627.8 529.8l3.9 7.4h-7.8z"/><path d="M630.6 529.8l3.9 7.4h-7.8z"/><path d="M633.4 529.8l3.9 7.4h-7.8z"/><path d="M636.3 529.8l3.9 7.4h-7.8z"/><path d="M639.1 529.8l3.9 7.4h-7.8z"/><path d="M641.9 529.8l3.9 7.4h-7.8z"/><path d="M644.7 529.8l3.9 7.4h-7.8z"/><path d="M647.6 529.8l3.9 7.4h-7.8z"/><path d="M650.4 529.8l3.9 7.4h-7.8z"/><path d="M653.2 529.8l3.9 7.4h-7.8z"/><path d="M656.1 529.8l3.9 7.4h-7.8z"/><path d="M658.9 529.8l3.9 7.4h-7.8z"/><path d="M661.7 529.8l3.9 7.4h-7.8z"/><path d="M664.5 529.8l3.9 7.4h-7.8z"/><path d="M667.4 529.8l3.9 7.4h-7.8z"/><path d="M670.2 529.8l3.9 7.4h-7.8z"/><path d="M673 529.8l3.9 7.4h-7.8z"/><path d="M675.9 529.8l3.9 7.4h-7.8z"/><path d="M678.7 529.8l3.9 7.4h-7.8z"/><path d="M681.5 529.8l3.9 7.4h-7.8z"/><path d="M684.3 529.8l3.9 7.4h-7.8z"/><path d="M687.2 529.8l3.9 7.4h-7.8z"/><path d="M690 529.8l3.9 7.4h-7.8z"/><path d="M692.8 529.8l3.9 7.4h-7.8z"/><path d="M695.7 529.8l3.9 7.4h-7.8z"/><path d="M698.5 529.8l3.9 7.4h-7.8z"/><path d="M701.3 529.8l3.9 7.4h-7.8z"/><path d="M704.1 529.8l3.9 7.4h-7.8z"/><path d="M707 529.8l3.9 7.4h-7.8z"/><path d="M709.8 529.8l3.9 7.4h-7.8z"/><path d="M712.6 529.8l3.9 7.4h-7.8z"/><path d="M715.5 529.8l3.9 7.4h-7.8z"/><path d="M718.3 529.8l3.9 7.4h-7.8z"/><path d="M721.1 529.8l3.9 7.4h-7.8z"/><path d="M723.9 529.8l3.9 7.4h-7.8z"/><path d="M726.8 529.8l3.9 7.4h-7.8z"/><path d="M729.6 529.8l3.9 7.4h-7.8z"/><path d="M732.4 529.8l3.9 7.4h-7.8z"/><path d="M735.3 529.8l3.9 7.4h-7.8z"/><path d="M738.1 529.8l3.9 7.4h-7.8z"/><path d="M740.9 529.8l3.9 7.4h-7.8z"/><path d="M743.7 529.8l3.9 7.4h-7.8z"/><path d="M746.6 529.8l3.9 7.4h-7.8z"/><path d="M749.4 529.8l3.9 7.4h-7.8z"/><path d="M752.2 529.8l3.9 7.4h-7.8z"/><path d="M755.1 529.8l3.9 7.4h-7.8z"/><path d="M757.9 528.7l3.9 7.4h-7.8z"/><path d="M760.7 528.7l3.9 7.4h-7.8z"/><path d="M763.5 528.7l3.9 7.4h-7.8z"/><path d="M766.4 528.7l3.9 7.4h-7.8z"/><path d="M769.2 528.7l3.9 7.4h-7.8z"/><path d="M772 528.7l3.9 7.4h-7.8z"/><path d="M774.9 528.7l3.9 7.4h-7.8z"/><path d="M777.7 528.7l3.9 7.4h-7.8z"/><path d="M780.5 528.7l3.9 7.4h-7.8z"/><path d="M783.3 528.7l3.9 7.4h-7.8z"/><path d="M786.2 528.7l3.9 7.4h-7.8z"/><path d="M789 528.7l3.9 7.4h-7.8z"/><path d="M791.8 528.7l3.9 7.4h-7.8z"/><path d="M794.7 528.7l3.9 7.4h-7.8z"/><path d="M797.5 528.7l3.9 7.4h-7.8z"/><path d="M800.3 528.7l3.9 7.4h-7.8z"/><path d="M803.1 528.7l3.9 7.4h-7.8z"/><path d="M806 528.7l3.9 7.4h-7.8z"/><path d="M808.8 528.7l3.9 7.4h-7.8z"/><path d="M811.6 528.7l3.9 7.4h-7.8z"/><path d="M814.5 528.7l3.9 7.4h-7.8z"/><path d="M817.3 528.7l3.9 7.4h-7.8z"/><path d="M820.1 528.7l3.9 7.4h-7.8z"/><path d="M822.9 528.7l3.9 7.4h-7.8z"/><path d="M825.8 528.7l3.9 7.4h-7.8z"/><path d="M828.6 528.7l3.9 7.4h-7.8z"/><path d="M831.4 528.7l3.9 7.4h-7.8z"/><path d="M834.3 528.7l3.9 7.4h-7.8z"/><path d="M837.1 528.7l3.9 7.4h-7.8z"/><path d="M839.9 528.7l3.9 7.4h-7.8z"/><path d="M842.7 528.7l3.9 7.4h-7.8z"/><path d="M845.6 528.7l3.9 7.4h-7.8z"/><path d="M848.4 528.7l3.9 7.4h-7.8z"/></g>
<path d="M96 533.7 L97.4 533.7 L98.8 533.7 L100.2 533.7 L101.7 533.6 L103.1 533.6 L104.5 533.6 L105.9 533.6 L107.3 533.6 L108.7 533.6 L110.1 533.6 L111.6 533.6 L113 533.6 L114.4 533.6 L115.8 533.5 L117.2 533.5 L118.6 533.5 L120 533.5 L121.5 533.5 L122.9 533.5 L124.3 533.5 L125.7 533.5 L127.1 533.5 L128.5 533.4 L129.9 533.4 L131.4 533.4 L132.8 533.4 L134.2 533.4 L135.6 533.4 L137 533.4 L138.4 533.4 L139.8 533.4 L141.3 533.4 L142.7 533.3 L144.1 533.3 L145.5 533.3 L146.9 533.3 L148.3 533.3 L149.7 533.3 L151.2 533.2 L152.6 533.2 L154 533.1 L155.4 533.1 L156.8 533.1 L158.2 533 L159.6 533 L161.1 532.9 L162.5 532.9 L163.9 532.8 L165.3 532.8 L166.7 532.8 L168.1 532.7 L169.5 532.6 L171 532.5 L172.4 532.5 L173.8 532.4 L175.2 532.3 L176.6 532.2 L178 532.1 L179.4 532 L180.9 531.9 L182.3 531.8 L183.7 531.6 L185.1 531.4 L186.5 531.1 L187.9 530.9 L189.3 530.6 L190.8 530.4 L192.2 530.1 L193.6 529.9 L195 529.6 L196.4 529.4 L197.8 529.1 L199.2 528.9 L200.7 528.7 L202.1 528 L203.5 527.3 L204.9 526.6 L206.3 525.8 L207.7 525.1 L209.1 524.3 L210.6 523.6 L212 522.9 L213.4 522.1 L214.8 520.9 L216.2 519.2 L217.6 517.6 L219 516 L220.5 514.3 L221.9 512.7 L223.3 510.1 L224.7 507.5 L226.1 504.9 L227.5 502.3 L228.9 499.8 L230.4 497.7 L231.8 495.6 L233.2 493.6 L234.6 492.2 L236 491.3 L237.4 490.5 L238.8 489.6 L240.3 488.8 L241.7 489.1 L243.1 489.6 L244.5 490.1 L245.9 490.5 L247.3 491 L248.7 491.5 L250.2 491.9 L251.6 492.4 L253 492.8 L254.4 493.3 L255.8 493.7 L257.2 494.1 L258.6 494.6 L260.1 494.5 L261.5 494.4 L262.9 494.3 L264.3 494.1 L265.7 494 L267.1 493.9 L268.5 493.8 L270 493.7 L271.4 493.5 L272.8 493.4 L274.2 493.3 L275.6 493.2 L277 493.1 L278.4 493 L279.9 492.9 L281.3 492.8 L282.7 492.7 L284.1 492.7 L285.5 492.6 L286.9 492.5 L288.3 492.4 L289.8 492.3 L291.2 492.2 L292.6 492.1 L294 492 L295.4 492.2 L296.8 492.3 L298.2 492.5 L299.7 492.6 L301.1 492.8 L302.5 493 L303.9 493.1 L305.3 493.3 L306.7 493.4 L308.1 493.6 L309.6 493.8 L311 493.9 L312.4 493.9 L313.8 493.8 L315.2 493.6 L316.6 493.5 L318 493.4 L319.5 493.2 L320.9 493.1 L322.3 492.9 L323.7 492.8 L325.1 492.5 L326.5 491.7 L327.9 490.9 L329.4 490.1 L330.8 489.4 L332.2 488.6 L333.6 487.8 L335 487 L336.4 486.2 L337.8 486.3 L339.3 486.5 L340.7 486.7 L342.1 486.9 L343.5 487.1 L344.9 487.3 L346.3 488 L347.7 489.5 L349.2 490.9 L350.6 492.3 L352 493.4 L353.4 494.3 L354.8 495.3 L356.2 496.2 L357.6 497.1 L359.1 498 L360.5 498.3 L361.9 498.7 L363.3 499 L364.7 499.4 L366.1 499.7 L367.5 500.1 L369 500.4 L370.4 500.6 L371.8 500.6 L373.2 500.7 L374.6 500.8 L376 500.9 L377.4 501.3 L378.9 502 L380.3 502.6 L381.7 503.2 L383.1 503.8 L384.5 504.5 L385.9 505.1 L387.3 505.7 L388.8 506.3 L390.2 506.7 L391.6 507.1 L393 507.5 L394.4 508 L395.8 508.4 L397.2 508.8 L398.7 509.2 L400.1 509.6 L401.5 510 L402.9 510.3 L404.3 510.6 L405.7 510.9 L407.1 511.2 L408.6 511.5 L410 511.8 L411.4 512.1 L412.8 512.4 L414.2 512.7 L415.6 512.7 L417 512.7 L418.5 512.7 L419.9 512.7 L421.3 512.7 L422.7 512.7 L424.1 512.7 L425.5 512.7 L426.9 512.7 L428.4 512.6 L429.8 512.4 L431.2 512.1 L432.6 511.9 L434 511.7 L435.4 511.5 L436.8 511.3 L438.3 511.1 L439.7 510.8 L441.1 510.6 L442.5 510.2 L443.9 509.9 L445.3 509.5 L446.7 509.1 L448.2 508.8 L449.6 508.4 L451 508.1 L452.4 507.8 L453.8 507.6 L455.2 507.4 L456.6 507.1 L458.1 506.9 L459.5 506.7 L460.9 506.5 L462.3 506.3 L463.7 506.1 L465.1 506 L466.5 506.3 L468 506.7 L469.4 507.1 L470.8 507.4 L472.2 507.8 L473.6 508.1 L475 508.5 L476.4 508.8 L477.9 509.2 L479.3 509.6 L480.7 510 L482.1 510.5 L483.5 510.9 L484.9 511.3 L486.3 511.7 L487.8 512.1 L489.2 512.6 L490.6 513 L492 513.4 L493.4 513.8 L494.8 514.3 L496.2 514.7 L497.7 515.2 L499.1 515.6 L500.5 516 L501.9 516.5 L503.3 516.9 L504.7 517.3 L506.1 517.7 L507.6 518.2 L509 518.6 L510.4 519 L511.8 519.4 L513.2 519.8 L514.6 520.3 L516 520.7 L517.5 521.1 L518.9 521.4 L520.3 521.8 L521.7 522.1 L523.1 522.5 L524.5 522.8 L525.9 523.1 L527.4 523.4 L528.8 523.7 L530.2 524 L531.6 524.3 L533 524.5 L534.4 524.8 L535.8 525.1 L537.3 525.4 L538.7 525.7 L540.1 525.9 L541.5 526.2 L542.9 526.5 L544.3 526.8 L545.7 527.1 L547.2 527.3 L548.6 527.6 L550 527.9 L551.4 528.2 L552.8 528.5 L554.2 528.8 L555.6 529.1 L557.1 529.4 L558.5 529.7 L559.9 529.9 L561.3 530.2 L562.7 530.5 L564.1 530.8 L565.5 530.9 L567 531.1 L568.4 531.2 L569.8 531.3 L571.2 531.4 L572.6 531.6 L574 531.7 L575.4 531.8 L576.9 531.9 L578.3 532.1 L579.7 532.1 L581.1 532.1 L582.5 532.2 L583.9 532.2 L585.3 532.2 L586.8 532.2 L588.2 532.2 L589.6 532.3 L591 532.3 L592.4 532.3 L593.8 532.3 L595.2 532.3 L596.7 532.4 L598.1 532.4 L599.5 532.4 L600.9 532.4 L602.3 532.4 L603.7 532.5 L605.1 532.5 L606.6 532.5 L608 532.5 L609.4 532.5 L610.8 532.6 L612.2 532.6 L613.6 532.6 L615 532.4 L616.5 532.3 L617.9 532.2 L619.3 532.1 L620.7 532 L622.1 531.8 L623.5 531.7 L624.9 531.6 L626.4 531.5 L627.8 531.4 L629.2 531.2 L630.6 530.9 L632 530.7 L633.4 530.4 L634.8 530.1 L636.3 529.9 L637.7 529.6 L639.1 529.3 L640.5 529.1 L641.9 528.8 L643.3 528.5 L644.7 528.2 L646.2 527.8 L647.6 527.5 L649 527.2 L650.4 526.9 L651.8 526.5 L653.2 526.2 L654.6 525.9 L656.1 525.5 L657.5 525.2 L658.9 524.9 L660.3 524.6 L661.7 524.2 L663.1 523.9 L664.5 523.5 L666 523 L667.4 522.4 L668.8 521.9 L670.2 521.3 L671.6 520.7 L673 520.2 L674.4 519.6 L675.9 519 L677.3 518.5 L678.7 517.6 L680.1 516.6 L681.5 515.6 L682.9 514.6 L684.3 513.6 L685.8 512.6 L687.2 511.6 L688.6 510.6 L690 509.6 L691.4 508.7 L692.8 507.9 L694.2 507 L695.7 506.2 L697.1 505.8 L698.5 506 L699.9 506.3 L701.3 506.5 L702.7 506.8 L704.1 507 L705.6 507.3 L707 507.5 L708.4 507.7 L709.8 508 L711.2 508.3 L712.6 508.6 L714 508.8 L715.5 509.1 L716.9 509.4 L718.3 509.7 L719.7 509.9 L721.1 510.2 L722.5 510.5 L723.9 510.8 L725.4 510.9 L726.8 510.4 L728.2 509.8 L729.6 509.3 L731 508.7 L732.4 507.8 L733.8 506.3 L735.3 504.9 L736.7 503.5 L738.1 502.1 L739.5 500.7 L740.9 499.3 L742.3 496.9 L743.7 494.5 L745.2 492 L746.6 489.6 L748 487.2 L749.4 484.7 L750.8 482.2 L752.2 479.7 L753.6 477.2 L755.1 475.1 L756.5 473 L757.9 470.8 L759.3 468.7 L760.7 466.1 L762.1 463.2 L763.5 460.4 L765 457.6 L766.4 454.8 L767.8 452.7 L769.2 451.2 L770.6 449.7 L772 448.3 L773.4 446.8 L774.9 445.3 L776.3 443.8 L777.7 443.3 L779.1 443.6 L780.5 443.9 L781.9 444.3 L783.3 444.6 L784.8 446.5 L786.2 449.2 L787.6 451.8 L789 454.5 L790.4 457.1 L791.8 459.6 L793.2 462.1 L794.7 464.7 L796.1 467.2 L797.5 469.6 L798.9 472 L800.3 474.3 L801.7 476.7 L803.1 479.1 L804.6 481.4 L806 482.8 L807.4 484.2 L808.8 485.6 L810.2 487 L811.6 488.4 L813 489.9 L814.5 491.3 L815.9 492.4 L817.3 493.2 L818.7 494.1 L820.1 495 L821.5 495.9 L822.9 496.8 L824.4 497.7 L825.8 498.5 L827.2 499.2 L828.6 499.9 L830 500.6 L831.4 501.3 L832.8 501.4 L834.3 500.9 L835.7 500.5 L837.1 500.1 L838.5 499.7 L839.9 498.3 L841.3 496.9 L842.7 495.5 L844.2 493.1 L845.6 488.1 L847 482.9 L848.4 477.3" fill="none" stroke="#00b050" stroke-width="2.6" stroke-linejoin="round"/>
<path d="M849.5 477 L857 440 L864.5 380 L867.3 342.3 L898.7 342.3 L902 398 L909 510" fill="none" stroke="#00b050" stroke-width="3.4" stroke-linejoin="round"/>
<g fill="#00b050" stroke="#0a0a0a" stroke-width="1.2"><circle cx="97.4" cy="533.4" r="1.85"/><circle cx="100.2" cy="533.4" r="1.85"/><circle cx="103.1" cy="533.3" r="1.85"/><circle cx="105.9" cy="533.3" r="1.85"/><circle cx="108.7" cy="533.3" r="1.85"/><circle cx="111.6" cy="533.3" r="1.85"/><circle cx="114.4" cy="533.3" r="1.85"/><circle cx="117.2" cy="533.2" r="1.85"/><circle cx="120" cy="533.2" r="1.85"/><circle cx="122.9" cy="533.2" r="1.85"/><circle cx="125.7" cy="533.2" r="1.85"/><circle cx="128.5" cy="533.2" r="1.85"/><circle cx="131.4" cy="533.1" r="1.85"/><circle cx="134.2" cy="533.1" r="1.85"/><circle cx="137" cy="533.1" r="1.85"/><circle cx="139.8" cy="533.1" r="1.85"/><circle cx="142.7" cy="533.1" r="1.85"/><circle cx="145.5" cy="533" r="1.85"/><circle cx="148.3" cy="533" r="1.85"/><circle cx="151.2" cy="533" r="1.85"/><circle cx="154" cy="532.9" r="1.85"/><circle cx="156.8" cy="532.8" r="1.85"/><circle cx="159.6" cy="532.7" r="1.85"/><circle cx="162.5" cy="532.6" r="1.85"/><circle cx="165.3" cy="532.5" r="1.85"/><circle cx="168.1" cy="532.5" r="1.85"/><circle cx="171" cy="532.3" r="1.85"/><circle cx="173.8" cy="532.2" r="1.85"/><circle cx="176.6" cy="532" r="1.85"/><circle cx="179.4" cy="531.8" r="1.85"/><circle cx="182.3" cy="531.6" r="1.85"/><circle cx="185.1" cy="531.3" r="1.85"/><circle cx="187.9" cy="530.8" r="1.85"/><circle cx="190.8" cy="530.3" r="1.85"/><circle cx="193.6" cy="529.8" r="1.85"/><circle cx="196.4" cy="529.3" r="1.85"/><circle cx="199.2" cy="528.8" r="1.85"/><circle cx="202.1" cy="528.4" r="1.85"/><circle cx="204.9" cy="527" r="1.85"/><circle cx="207.7" cy="525.5" r="1.85"/><circle cx="210.6" cy="524" r="1.85"/><circle cx="213.4" cy="522.6" r="1.85"/><circle cx="216.2" cy="520.6" r="1.85"/><circle cx="219" cy="517.3" r="1.85"/><circle cx="221.9" cy="514" r="1.85"/><circle cx="224.7" cy="509.8" r="1.85"/><circle cx="227.5" cy="504.6" r="1.85"/><circle cx="230.4" cy="499.5" r="1.85"/><circle cx="233.2" cy="495.3" r="1.85"/><circle cx="236" cy="491.9" r="1.85"/><circle cx="238.8" cy="490.2" r="1.85"/><circle cx="241.7" cy="488.5" r="1.85"/><circle cx="244.5" cy="489.3" r="1.85"/><circle cx="247.3" cy="490.2" r="1.85"/><circle cx="250.2" cy="491.2" r="1.85"/><circle cx="253" cy="492.1" r="1.85"/><circle cx="255.8" cy="493" r="1.85"/><circle cx="258.6" cy="493.8" r="1.85"/><circle cx="261.5" cy="494.2" r="1.85"/><circle cx="264.3" cy="494" r="1.85"/><circle cx="267.1" cy="493.7" r="1.85"/><circle cx="270" cy="493.5" r="1.85"/><circle cx="272.8" cy="493.2" r="1.85"/><circle cx="275.6" cy="493" r="1.85"/><circle cx="278.4" cy="492.8" r="1.85"/><circle cx="281.3" cy="492.6" r="1.85"/><circle cx="284.1" cy="492.4" r="1.85"/><circle cx="286.9" cy="492.3" r="1.85"/><circle cx="289.8" cy="492.1" r="1.85"/><circle cx="292.6" cy="491.9" r="1.85"/><circle cx="295.4" cy="491.7" r="1.85"/><circle cx="298.2" cy="492" r="1.85"/><circle cx="301.1" cy="492.3" r="1.85"/><circle cx="303.9" cy="492.7" r="1.85"/><circle cx="306.7" cy="493" r="1.85"/><circle cx="309.6" cy="493.3" r="1.85"/><circle cx="312.4" cy="493.6" r="1.85"/><circle cx="315.2" cy="493.5" r="1.85"/><circle cx="318" cy="493.2" r="1.85"/><circle cx="320.9" cy="492.9" r="1.85"/><circle cx="323.7" cy="492.6" r="1.85"/><circle cx="326.5" cy="492.2" r="1.85"/><circle cx="329.4" cy="490.6" r="1.85"/><circle cx="332.2" cy="489.1" r="1.85"/><circle cx="335" cy="487.5" r="1.85"/><circle cx="337.8" cy="485.9" r="1.85"/><circle cx="340.7" cy="486.2" r="1.85"/><circle cx="343.5" cy="486.6" r="1.85"/><circle cx="346.3" cy="487" r="1.85"/><circle cx="349.2" cy="489.2" r="1.85"/><circle cx="352" cy="492" r="1.85"/><circle cx="354.8" cy="494" r="1.85"/><circle cx="357.6" cy="495.9" r="1.85"/><circle cx="360.5" cy="497.7" r="1.85"/><circle cx="363.3" cy="498.4" r="1.85"/><circle cx="366.1" cy="499.1" r="1.85"/><circle cx="369" cy="499.8" r="1.85"/><circle cx="371.8" cy="500.3" r="1.85"/><circle cx="374.6" cy="500.4" r="1.85"/><circle cx="377.4" cy="500.6" r="1.85"/><circle cx="380.3" cy="501.7" r="1.85"/><circle cx="383.1" cy="502.9" r="1.85"/><circle cx="385.9" cy="504.2" r="1.85"/><circle cx="388.8" cy="505.4" r="1.85"/><circle cx="391.6" cy="506.4" r="1.85"/><circle cx="394.4" cy="507.2" r="1.85"/><circle cx="397.2" cy="508.1" r="1.85"/><circle cx="400.1" cy="508.9" r="1.85"/><circle cx="402.9" cy="509.7" r="1.85"/><circle cx="405.7" cy="510.3" r="1.85"/><circle cx="408.6" cy="510.9" r="1.85"/><circle cx="411.4" cy="511.5" r="1.85"/><circle cx="414.2" cy="512.1" r="1.85"/><circle cx="417" cy="512.4" r="1.85"/><circle cx="419.9" cy="512.4" r="1.85"/><circle cx="422.7" cy="512.4" r="1.85"/><circle cx="425.5" cy="512.4" r="1.85"/><circle cx="428.4" cy="512.4" r="1.85"/><circle cx="431.2" cy="512.1" r="1.85"/><circle cx="434" cy="511.6" r="1.85"/><circle cx="436.8" cy="511.2" r="1.85"/><circle cx="439.7" cy="510.8" r="1.85"/><circle cx="442.5" cy="510.3" r="1.85"/><circle cx="445.3" cy="509.6" r="1.85"/><circle cx="448.2" cy="508.8" r="1.85"/><circle cx="451" cy="508.1" r="1.85"/><circle cx="453.8" cy="507.5" r="1.85"/><circle cx="456.6" cy="507.1" r="1.85"/><circle cx="459.5" cy="506.6" r="1.85"/><circle cx="462.3" cy="506.2" r="1.85"/><circle cx="465.1" cy="505.8" r="1.85"/><circle cx="468" cy="506" r="1.85"/><circle cx="470.8" cy="506.8" r="1.85"/><circle cx="473.6" cy="507.5" r="1.85"/><circle cx="476.4" cy="508.2" r="1.85"/><circle cx="479.3" cy="508.9" r="1.85"/><circle cx="482.1" cy="509.7" r="1.85"/><circle cx="484.9" cy="510.6" r="1.85"/><circle cx="487.8" cy="511.4" r="1.85"/><circle cx="490.6" cy="512.3" r="1.85"/><circle cx="493.4" cy="513.1" r="1.85"/><circle cx="496.2" cy="514" r="1.85"/><circle cx="499.1" cy="514.9" r="1.85"/><circle cx="501.9" cy="515.7" r="1.85"/><circle cx="504.7" cy="516.6" r="1.85"/><circle cx="507.6" cy="517.4" r="1.85"/><circle cx="510.4" cy="518.3" r="1.85"/><circle cx="513.2" cy="519.1" r="1.85"/><circle cx="516" cy="520" r="1.85"/><circle cx="518.9" cy="520.8" r="1.85"/><circle cx="521.7" cy="521.5" r="1.85"/><circle cx="524.5" cy="522.2" r="1.85"/><circle cx="527.4" cy="522.8" r="1.85"/><circle cx="530.2" cy="523.4" r="1.85"/><circle cx="533" cy="524" r="1.85"/><circle cx="535.8" cy="524.5" r="1.85"/><circle cx="538.7" cy="525.1" r="1.85"/><circle cx="541.5" cy="525.6" r="1.85"/><circle cx="544.3" cy="526.2" r="1.85"/><circle cx="547.2" cy="526.8" r="1.85"/><circle cx="550" cy="527.3" r="1.85"/><circle cx="552.8" cy="527.9" r="1.85"/><circle cx="555.6" cy="528.5" r="1.85"/><circle cx="558.5" cy="529.1" r="1.85"/><circle cx="561.3" cy="529.6" r="1.85"/><circle cx="564.1" cy="530.2" r="1.85"/><circle cx="567" cy="530.6" r="1.85"/><circle cx="569.8" cy="530.9" r="1.85"/><circle cx="572.6" cy="531.1" r="1.85"/><circle cx="575.4" cy="531.4" r="1.85"/><circle cx="578.3" cy="531.6" r="1.85"/><circle cx="581.1" cy="531.8" r="1.85"/><circle cx="583.9" cy="531.9" r="1.85"/><circle cx="586.8" cy="531.9" r="1.85"/><circle cx="589.6" cy="531.9" r="1.85"/><circle cx="592.4" cy="532" r="1.85"/><circle cx="595.2" cy="532" r="1.85"/><circle cx="598.1" cy="532.1" r="1.85"/><circle cx="600.9" cy="532.1" r="1.85"/><circle cx="603.7" cy="532.1" r="1.85"/><circle cx="606.6" cy="532.2" r="1.85"/><circle cx="609.4" cy="532.2" r="1.85"/><circle cx="612.2" cy="532.3" r="1.85"/><circle cx="615" cy="532.3" r="1.85"/><circle cx="617.9" cy="532" r="1.85"/><circle cx="620.7" cy="531.8" r="1.85"/><circle cx="623.5" cy="531.5" r="1.85"/><circle cx="626.4" cy="531.3" r="1.85"/><circle cx="629.2" cy="531.1" r="1.85"/><circle cx="632" cy="530.6" r="1.85"/><circle cx="634.8" cy="530.1" r="1.85"/><circle cx="637.7" cy="529.6" r="1.85"/><circle cx="640.5" cy="529" r="1.85"/><circle cx="643.3" cy="528.5" r="1.85"/><circle cx="646.2" cy="527.9" r="1.85"/><circle cx="649" cy="527.2" r="1.85"/><circle cx="651.8" cy="526.6" r="1.85"/><circle cx="654.6" cy="525.9" r="1.85"/><circle cx="657.5" cy="525.2" r="1.85"/><circle cx="660.3" cy="524.6" r="1.85"/><circle cx="663.1" cy="523.9" r="1.85"/><circle cx="666" cy="523.2" r="1.85"/><circle cx="668.8" cy="522.1" r="1.85"/><circle cx="671.6" cy="521" r="1.85"/><circle cx="674.4" cy="519.9" r="1.85"/><circle cx="677.3" cy="518.7" r="1.85"/><circle cx="680.1" cy="517.3" r="1.85"/><circle cx="682.9" cy="515.3" r="1.85"/><circle cx="685.8" cy="513.3" r="1.85"/><circle cx="688.6" cy="511.3" r="1.85"/><circle cx="691.4" cy="509.3" r="1.85"/><circle cx="694.2" cy="507.6" r="1.85"/><circle cx="697.1" cy="505.9" r="1.85"/><circle cx="699.9" cy="505.7" r="1.85"/><circle cx="702.7" cy="506.2" r="1.85"/><circle cx="705.6" cy="506.7" r="1.85"/><circle cx="708.4" cy="507.2" r="1.85"/><circle cx="711.2" cy="507.7" r="1.85"/><circle cx="714" cy="508.3" r="1.85"/><circle cx="716.9" cy="508.8" r="1.85"/><circle cx="719.7" cy="509.4" r="1.85"/><circle cx="722.5" cy="509.9" r="1.85"/><circle cx="725.4" cy="510.5" r="1.85"/><circle cx="728.2" cy="510.1" r="1.85"/><circle cx="731" cy="509" r="1.85"/><circle cx="733.8" cy="507.5" r="1.85"/><circle cx="736.7" cy="504.6" r="1.85"/><circle cx="739.5" cy="501.8" r="1.85"/><circle cx="742.3" cy="499" r="1.85"/><circle cx="745.2" cy="494.2" r="1.85"/><circle cx="748" cy="489.3" r="1.85"/><circle cx="750.8" cy="484.4" r="1.85"/><circle cx="753.6" cy="479.4" r="1.85"/><circle cx="756.5" cy="474.8" r="1.85"/><circle cx="759.3" cy="470.5" r="1.85"/><circle cx="762.1" cy="465.8" r="1.85"/><circle cx="765" cy="460.1" r="1.85"/><circle cx="767.8" cy="454.5" r="1.85"/><circle cx="770.6" cy="450.9" r="1.85"/><circle cx="773.4" cy="448" r="1.85"/><circle cx="776.3" cy="445" r="1.85"/><circle cx="779.1" cy="443" r="1.85"/><circle cx="781.9" cy="443.6" r="1.85"/><circle cx="784.8" cy="444.3" r="1.85"/><circle cx="787.6" cy="448.9" r="1.85"/><circle cx="790.4" cy="454.2" r="1.85"/><circle cx="793.2" cy="459.3" r="1.85"/><circle cx="796.1" cy="464.4" r="1.85"/><circle cx="798.9" cy="469.3" r="1.85"/><circle cx="801.7" cy="474" r="1.85"/><circle cx="804.6" cy="478.8" r="1.85"/><circle cx="807.4" cy="482.5" r="1.85"/><circle cx="810.2" cy="485.3" r="1.85"/><circle cx="813" cy="488.1" r="1.85"/><circle cx="815.9" cy="491" r="1.85"/><circle cx="818.7" cy="492.9" r="1.85"/><circle cx="821.5" cy="494.7" r="1.85"/><circle cx="824.4" cy="496.5" r="1.85"/><circle cx="827.2" cy="498.2" r="1.85"/><circle cx="830" cy="499.6" r="1.85"/><circle cx="832.8" cy="501" r="1.85"/><circle cx="835.7" cy="500.6" r="1.85"/><circle cx="838.5" cy="499.8" r="1.85"/><circle cx="841.3" cy="498" r="1.85"/><circle cx="844.2" cy="495.2" r="1.85"/><circle cx="847" cy="487.8" r="1.85"/><circle cx="849.8" cy="477" r="1.85"/></g>
</g>
<rect x="651.5" y="116.3" width="258" height="6.6" fill="#ff0000" fill-opacity="0.5"/>
<text x="653" y="108" font-size="16.7" font-weight="bold" fill="#ff0000" textLength="97.5" lengthAdjust="spacingAndGlyphs">maksimalna</text>
<text x="762" y="108" font-size="16.7" font-weight="bold" fill="#ff0000" textLength="84.5" lengthAdjust="spacingAndGlyphs">kapaciteta</text>
<text x="855.5" y="108" font-size="16.7" font-weight="bold" fill="#ff0000" textLength="41" lengthAdjust="spacingAndGlyphs">+PCR</text>
<rect x="108" y="89" width="334.5" height="155.2" fill="#fff" stroke="#000" stroke-width="1.2"/>
<text x="150.2" y="101.7" font-size="13.1" fill="#000" textLength="187.4" lengthAdjust="spacingAndGlyphs">Potrjeni primeri (dnevni podatki)</text>
<text x="150.2" y="121.8" font-size="13.1" fill="#000" textLength="216.2" lengthAdjust="spacingAndGlyphs">Potrjeni primeri (7-dnevno povprečje)</text>
<text x="150.2" y="141.4" font-size="13.1" fill="#000" textLength="196.6" lengthAdjust="spacingAndGlyphs">Potrjeni primeri (projekcija: R=1,6)</text>
<text x="150.2" y="160.2" font-size="13.1" fill="#000" textLength="289" lengthAdjust="spacingAndGlyphs">Potrjeni primeri (pričakovano območje dnev. pod.)</text>
<text x="150.2" y="179.5" font-size="13.1" fill="#000" textLength="187.9" lengthAdjust="spacingAndGlyphs">Uvoženi primeri (dnevni podatki)</text>
<text x="150.2" y="198.9" font-size="13.1" fill="#000" textLength="217" lengthAdjust="spacingAndGlyphs">Uvoženi primeri (7-dnevno povprečje)</text>
<text x="150.2" y="218.4" font-size="13.1" fill="#000" textLength="274.4" lengthAdjust="spacingAndGlyphs">14-dnevna incidenca na 100.000 preb. (podatki)</text>
<text x="150.2" y="237.2" font-size="13.1" fill="#000" textLength="287" lengthAdjust="spacingAndGlyphs">14-dnevna incidenca na 100.000 preb. (projekcija)</text>
<path d="M129.1 94.6l4 4l-4 4l-4 -4z" fill="#0070c0" stroke="#111" stroke-width="0.9"/>
<path d="M113 117.6 H145.5" stroke="#0070c0" stroke-width="4.2" stroke-linecap="round"/>
<path d="M113.4 137.4 H143" stroke="#0070c0" stroke-width="4.4" stroke-linecap="round" stroke-dasharray="0 9.7"/>
<path d="M112.8 156.6 H144" stroke="#4a86c8" stroke-width="3.2" stroke-linecap="round" stroke-dasharray="0 7.7"/>
<path d="M129.1 172.9l3.6 6.4h-7.2z" fill="#7030a0" stroke="#111" stroke-width="0.9"/>
<path d="M113 195.4 H145.5" stroke="#7030a0" stroke-width="4.2" stroke-linecap="round"/>
<circle cx="129.3" cy="214.6" r="2.3" fill="#00b050" stroke="#111" stroke-width="0.9"/>
<path d="M113 233.3 H145.5" stroke="#00b050" stroke-width="4.2" stroke-linecap="round"/>
</svg></body></html>
